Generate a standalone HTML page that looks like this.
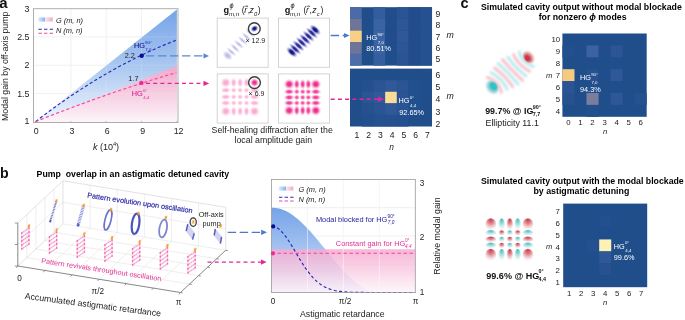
<!DOCTYPE html><html><head><meta charset="utf-8"><style>html,body{margin:0;padding:0;background:#fff;width:685px;height:320px;overflow:hidden}svg{display:block;will-change:transform}text{font-family:"Liberation Sans",sans-serif}</style></head><body><svg width="685" height="320" viewBox="0 0 685 320"><defs>
<linearGradient id="gBlueA" x1="0" y1="8.75" x2="0" y2="122" gradientUnits="userSpaceOnUse">
 <stop offset="0" stop-color="#75a3e8"/><stop offset="0.5" stop-color="#a9c7f0"/><stop offset="1" stop-color="#f0f5fd"/></linearGradient>
<linearGradient id="gPinkA" x1="0" y1="65" x2="0" y2="122" gradientUnits="userSpaceOnUse">
 <stop offset="0" stop-color="#f1a6cb"/><stop offset="0.5" stop-color="#f6cde1"/><stop offset="1" stop-color="#fdf5f9"/></linearGradient>
<linearGradient id="gSwB" x1="0" x2="1"><stop offset="0" stop-color="#e2ecfa"/><stop offset="1" stop-color="#86b1ec"/></linearGradient>
<linearGradient id="gSwP" x1="0" x2="1"><stop offset="0" stop-color="#fbe6f0"/><stop offset="1" stop-color="#f3a9cc"/></linearGradient>

<filter id="bl1" x="-50%" y="-50%" width="200%" height="200%"><feGaussianBlur stdDeviation="0.9"/></filter>
<filter id="bl2" x="-50%" y="-50%" width="200%" height="200%"><feGaussianBlur stdDeviation="1.3"/></filter>
<filter id="bl05" x="-50%" y="-50%" width="200%" height="200%"><feGaussianBlur stdDeviation="0.5"/></filter>
<filter id="bl06" x="-50%" y="-50%" width="200%" height="200%"><feGaussianBlur stdDeviation="0.6"/></filter><radialGradient id="rgNavy"><stop offset="0" stop-color="#0a0a86"/><stop offset="0.35" stop-color="#0a0a86" stop-opacity="0.9"/><stop offset="0.7" stop-color="#3a3ab0" stop-opacity="0.35"/><stop offset="1" stop-color="#8080d0" stop-opacity="0"/></radialGradient><radialGradient id="rgLav"><stop offset="0" stop-color="#5050c0" stop-opacity="0.45"/><stop offset="0.5" stop-color="#6a6ac8" stop-opacity="0.3"/><stop offset="1" stop-color="#a0a0e0" stop-opacity="0"/></radialGradient><radialGradient id="rgPink"><stop offset="0" stop-color="#f0208a"/><stop offset="0.35" stop-color="#f0288c" stop-opacity="0.9"/><stop offset="0.7" stop-color="#f060a8" stop-opacity="0.35"/><stop offset="1" stop-color="#f8a0c8" stop-opacity="0"/></radialGradient>
<radialGradient id="rgRed" cx="0.5" cy="0.5" r="0.5" fx="0.25" fy="0.5"><stop offset="0" stop-color="#e02430"/><stop offset="0.35" stop-color="#c83440" stop-opacity="0.95"/><stop offset="0.7" stop-color="#c86870" stop-opacity="0.5"/><stop offset="1" stop-color="#f0c0c4" stop-opacity="0"/></radialGradient>
<radialGradient id="rgCyan" cx="0.5" cy="0.5" r="0.5" fx="0.75" fy="0.5"><stop offset="0" stop-color="#10d8dc"/><stop offset="0.35" stop-color="#28b8bc" stop-opacity="0.95"/><stop offset="0.7" stop-color="#60b8bc" stop-opacity="0.5"/><stop offset="1" stop-color="#c0e8ea" stop-opacity="0"/></radialGradient>
<radialGradient id="lgRedB" cx="0.5" cy="0.3" r="0.75" fx="0.5" fy="0.12"><stop offset="0" stop-color="#c83a48"/><stop offset="0.4" stop-color="#d8707a" stop-opacity="0.8"/><stop offset="1" stop-color="#f4c8cc" stop-opacity="0"/></radialGradient>
<radialGradient id="lgCyanB" cx="0.5" cy="0.3" r="0.75" fx="0.5" fy="0.12"><stop offset="0" stop-color="#40bcc0"/><stop offset="0.4" stop-color="#86d4d6" stop-opacity="0.8"/><stop offset="1" stop-color="#ccecee" stop-opacity="0"/></radialGradient>

<linearGradient id="gBlueB" x1="0" y1="205" x2="0" y2="292" gradientUnits="userSpaceOnUse">
 <stop offset="0" stop-color="#73a1e7"/><stop offset="0.5" stop-color="#a4c3f0"/><stop offset="1" stop-color="#e8effb"/></linearGradient>
<linearGradient id="gPinkB" x1="0" y1="249.3" x2="0" y2="292.5" gradientUnits="userSpaceOnUse">
 <stop offset="0" stop-color="#f6a9d0" stop-opacity="0.85"/><stop offset="0.5" stop-color="#f8c8e0" stop-opacity="0.75"/><stop offset="1" stop-color="#fdf2f8" stop-opacity="0.7"/></linearGradient>
</defs><line x1="70.85" y1="8.75" x2="70.85" y2="122.4" stroke="#e4e4e4" stroke-width="0.6"/>
<line x1="106.20" y1="8.75" x2="106.20" y2="122.4" stroke="#e4e4e4" stroke-width="0.6"/>
<line x1="141.55" y1="8.75" x2="141.55" y2="122.4" stroke="#e4e4e4" stroke-width="0.6"/>
<line x1="33.5" y1="93.45" x2="178" y2="93.45" stroke="#e4e4e4" stroke-width="0.6"/>
<line x1="33.5" y1="65.20" x2="178" y2="65.20" stroke="#e4e4e4" stroke-width="0.6"/>
<line x1="33.5" y1="36.95" x2="178" y2="36.95" stroke="#e4e4e4" stroke-width="0.6"/>
<polygon points="35.5,121.7 176.9,9.5 176.9,122.2 35.5,122.2" fill="url(#gBlueA)"/>
<polygon points="35.5,121.7 176.9,65.8 176.9,122.2 35.5,122.2" fill="url(#gPinkA)"/>
<line x1="70.85" y1="8.75" x2="70.85" y2="122.4" stroke="#ffffff" stroke-opacity="0.25" stroke-width="0.6"/>
<line x1="106.20" y1="8.75" x2="106.20" y2="122.4" stroke="#ffffff" stroke-opacity="0.25" stroke-width="0.6"/>
<line x1="141.55" y1="8.75" x2="141.55" y2="122.4" stroke="#ffffff" stroke-opacity="0.25" stroke-width="0.6"/>
<line x1="33.5" y1="93.45" x2="178" y2="93.45" stroke="#ffffff" stroke-opacity="0.25" stroke-width="0.6"/>
<line x1="33.5" y1="65.20" x2="178" y2="65.20" stroke="#ffffff" stroke-opacity="0.25" stroke-width="0.6"/>
<line x1="33.5" y1="36.95" x2="178" y2="36.95" stroke="#ffffff" stroke-opacity="0.25" stroke-width="0.6"/>
<path d="M35.5,121.7 Q105.9,67.0 176.3,40.2" fill="none" stroke="#2a2ab8" stroke-width="1.15" stroke-dasharray="3.2,2.3"/>
<path d="M35.5,121.7 Q105.9,93.3 176.3,72.6" fill="none" stroke="#f0489e" stroke-width="1.15" stroke-dasharray="3.2,2.3"/>
<rect x="33.5" y="8.75" width="144.5" height="113.65" fill="none" stroke="#9a9a9a" stroke-width="0.8"/>
<line x1="35.50" y1="122.4" x2="35.50" y2="120.9" stroke="#9a9a9a" stroke-width="0.6"/>
<line x1="70.85" y1="122.4" x2="70.85" y2="120.9" stroke="#9a9a9a" stroke-width="0.6"/>
<line x1="106.20" y1="122.4" x2="106.20" y2="120.9" stroke="#9a9a9a" stroke-width="0.6"/>
<line x1="141.55" y1="122.4" x2="141.55" y2="120.9" stroke="#9a9a9a" stroke-width="0.6"/>
<line x1="176.90" y1="122.4" x2="176.90" y2="120.9" stroke="#9a9a9a" stroke-width="0.6"/>
<text x="36.30" y="133.80" font-size="8.8" fill="#222" text-anchor="middle" font-weight="normal" font-style="normal" >0</text>
<text x="72.00" y="133.80" font-size="8.8" fill="#222" text-anchor="middle" font-weight="normal" font-style="normal" >3</text>
<text x="107.20" y="133.80" font-size="8.8" fill="#222" text-anchor="middle" font-weight="normal" font-style="normal" >6</text>
<text x="142.80" y="133.80" font-size="8.8" fill="#222" text-anchor="middle" font-weight="normal" font-style="normal" >9</text>
<text x="178.60" y="133.80" font-size="8.8" fill="#222" text-anchor="middle" font-weight="normal" font-style="normal" >12</text>
<text x="29.40" y="11.70" font-size="8.8" fill="#222" text-anchor="end" font-weight="normal" font-style="normal" >3</text>
<text x="29.40" y="40.10" font-size="8.8" fill="#222" text-anchor="end" font-weight="normal" font-style="normal" >2.5</text>
<text x="29.40" y="68.30" font-size="8.8" fill="#222" text-anchor="end" font-weight="normal" font-style="normal" >2</text>
<text x="29.40" y="96.50" font-size="8.8" fill="#222" text-anchor="end" font-weight="normal" font-style="normal" >1.5</text>
<text x="29.40" y="123.90" font-size="8.8" fill="#222" text-anchor="end" font-weight="normal" font-style="normal" >1</text>
<text transform="translate(8.0,66.3) rotate(-90)" font-size="8.75" fill="#222" text-anchor="middle">Modal gain by off-axis pump</text>
<text x="106.0" y="149.7" font-size="9" fill="#222" text-anchor="middle"><tspan font-style="italic">k</tspan> (10<tspan font-size="5.6" dy="-3.6">4</tspan><tspan dy="3.6">)</tspan></text>
<rect x="38.2" y="17.4" width="7" height="4.2" fill="url(#gSwB)"/>
<rect x="45.2" y="17.4" width="7.6" height="4.2" fill="url(#gSwP)"/>
<line x1="38.4" y1="29.3" x2="53" y2="29.3" stroke="#2a2ab8" stroke-width="1.1" stroke-dasharray="3.4,2.2"/>
<line x1="38.4" y1="33.3" x2="53" y2="33.3" stroke="#f0489e" stroke-width="1.1" stroke-dasharray="3.4,2.2"/>
<text x="55.90" y="22.90" font-size="7.4" fill="#222" text-anchor="start" font-weight="normal" font-style="italic" >G (m, n)</text>
<text x="55.90" y="33.00" font-size="7.4" fill="#222" text-anchor="start" font-weight="normal" font-style="italic" >N (m, n)</text>
<circle cx="141.7" cy="55.8" r="2.2" fill="#0a0a96"/>
<circle cx="141.4" cy="82.9" r="2.2" fill="#ee2a92"/>
<text x="124.70" y="57.80" font-size="7.3" fill="#222" text-anchor="start" font-weight="normal" font-style="normal" >2.2</text>
<text x="128.30" y="80.50" font-size="7.3" fill="#222" text-anchor="start" font-weight="normal" font-style="normal" >1.7</text>
<text x="133.90" y="47.90" font-size="7.3" fill="#141490" font-weight="normal" stroke="#141490" stroke-width="0.12">HG</text>
<text x="145.05" y="43.74" font-size="4.38" fill="#141490" font-weight="normal">90°</text>
<text x="145.35" y="51.19" font-size="4.38" fill="#141490" font-weight="normal">7,0</text>
<text x="131.80" y="95.80" font-size="7.3" fill="#dc2096" font-weight="normal" stroke="#dc2096" stroke-width="0.1">HG</text>
<text x="142.95" y="91.64" font-size="4.38" fill="#dc2096" font-weight="normal">0°</text>
<text x="143.25" y="99.08" font-size="4.38" fill="#dc2096" font-weight="normal">4,4</text>
<line x1="146" y1="55.9" x2="204.5" y2="55.9" stroke="#5b86d2" stroke-width="1.4" stroke-dasharray="8.4,3.6"/>
<polygon points="203.5,53.3 209,55.9 203.5,58.5" fill="#5b86d2"/>
<line x1="146" y1="83.4" x2="204.5" y2="83.4" stroke="#e0279a" stroke-width="1.4" stroke-dasharray="4,3.2"/>
<polygon points="203.5,80.8 209.2,83.4 203.5,86" fill="#e0279a"/>
<text x="-0.70" y="7.90" font-size="15.0" fill="#111" text-anchor="start" font-weight="bold" font-style="normal" >a</text>
<rect x="217.2" y="18.1" width="51" height="49.2" fill="#fff" stroke="#cfcfcf" stroke-width="0.9"/>
<rect x="278.5" y="18.1" width="51" height="49.2" fill="#fff" stroke="#cfcfcf" stroke-width="0.9"/>
<rect x="217.2" y="73.9" width="51" height="49.2" fill="#fff" stroke="#cfcfcf" stroke-width="0.9"/>
<rect x="278.5" y="73.9" width="51" height="49.2" fill="#fff" stroke="#cfcfcf" stroke-width="0.9"/>
<text x="223.60000000000002" y="12.5" font-size="9.2" fill="#111" font-weight="bold">g</text>
<text x="229.4" y="8.2" font-size="7.4" fill="#222" font-style="italic">ϕ</text>
<text x="228.9" y="15.8" font-size="6.2" fill="#222" font-style="italic">m,n</text>
<text x="241.8" y="12.8" font-size="8.6" fill="#222">(</text>
<text x="244.20000000000002" y="12.8" font-size="8.6" fill="#222" font-style="italic">r</text>
<path d="M244.70,6.30 h3.0 M246.90,5.40 l0.9,0.9 l-0.9,0.9" fill="none" stroke="#222" stroke-width="0.6"/>
<text x="247.8" y="12.8" font-size="8.6" fill="#222">,</text>
<text x="249.60000000000002" y="12.8" font-size="8.6" fill="#222" font-style="italic">z</text>
<text x="254.0" y="16.0" font-size="5.8" fill="#222" font-style="italic">0</text>
<text x="257.8" y="12.8" font-size="8.6" fill="#222">)</text>
<text x="284.7" y="12.5" font-size="9.2" fill="#111" font-weight="bold">g</text>
<text x="290.5" y="8.2" font-size="7.4" fill="#222" font-style="italic">ϕ</text>
<text x="290.0" y="15.8" font-size="6.2" fill="#222" font-style="italic">m,n</text>
<text x="303.59999999999997" y="12.8" font-size="8.6" fill="#222">(</text>
<text x="305.99999999999994" y="12.8" font-size="8.6" fill="#222" font-style="italic">r</text>
<path d="M306.50,6.30 h3.0 M308.70,5.40 l0.9,0.9 l-0.9,0.9" fill="none" stroke="#222" stroke-width="0.6"/>
<text x="309.59999999999997" y="12.8" font-size="8.6" fill="#222">,</text>
<text x="312.29999999999995" y="12.8" font-size="8.6" fill="#222" font-style="italic">z</text>
<text x="316.69999999999993" y="16.0" font-size="5.8" fill="#222" font-style="italic">c</text>
<text x="320.49999999999994" y="12.8" font-size="8.6" fill="#222">)</text>
<g><ellipse cx="291.80" cy="52.20" rx="7.2" ry="3.6" transform="rotate(42 291.80 52.20)" fill="url(#rgNavy)" fill-opacity="1.0"/><ellipse cx="295.14" cy="49.00" rx="8.2" ry="2.7" transform="rotate(42 295.14 49.00)" fill="url(#rgNavy)" fill-opacity="0.9"/><ellipse cx="298.49" cy="45.80" rx="8.2" ry="2.7" transform="rotate(42 298.49 45.80)" fill="url(#rgNavy)" fill-opacity="0.9"/><ellipse cx="301.83" cy="42.60" rx="8.2" ry="2.7" transform="rotate(42 301.83 42.60)" fill="url(#rgNavy)" fill-opacity="0.9"/><ellipse cx="305.17" cy="39.40" rx="8.2" ry="2.7" transform="rotate(42 305.17 39.40)" fill="url(#rgNavy)" fill-opacity="0.9"/><ellipse cx="308.51" cy="36.20" rx="8.2" ry="2.7" transform="rotate(42 308.51 36.20)" fill="url(#rgNavy)" fill-opacity="0.9"/><ellipse cx="311.86" cy="33.00" rx="8.2" ry="2.7" transform="rotate(42 311.86 33.00)" fill="url(#rgNavy)" fill-opacity="0.9"/><ellipse cx="315.20" cy="29.80" rx="7.2" ry="3.6" transform="rotate(42 315.20 29.80)" fill="url(#rgNavy)" fill-opacity="1.0"/></g>
<g><ellipse cx="227.60" cy="55.60" rx="6.0" ry="4.0" transform="rotate(42 227.60 55.60)" fill="url(#rgLav)" fill-opacity="1.0"/><ellipse cx="231.37" cy="51.83" rx="6.8" ry="2.0" transform="rotate(42 231.37 51.83)" fill="url(#rgLav)" fill-opacity="0.95"/><ellipse cx="235.13" cy="48.07" rx="6.8" ry="2.0" transform="rotate(42 235.13 48.07)" fill="url(#rgLav)" fill-opacity="0.95"/><ellipse cx="238.90" cy="44.30" rx="6.8" ry="2.0" transform="rotate(42 238.90 44.30)" fill="url(#rgLav)" fill-opacity="0.95"/><ellipse cx="242.67" cy="40.53" rx="6.8" ry="2.0" transform="rotate(42 242.67 40.53)" fill="url(#rgLav)" fill-opacity="0.95"/><ellipse cx="246.43" cy="36.77" rx="6.8" ry="2.0" transform="rotate(42 246.43 36.77)" fill="url(#rgLav)" fill-opacity="0.95"/><ellipse cx="250.20" cy="33.00" rx="6.8" ry="2.0" transform="rotate(42 250.20 33.00)" fill="url(#rgLav)" fill-opacity="0.95"/></g>
<ellipse cx="254.5" cy="28.6" rx="4.4" ry="3.4" transform="rotate(-30 254.5 28.6)" fill="url(#rgNavy)"/>
<circle cx="254.3" cy="28.7" r="5.9" fill="none" stroke="#3c3c3c" stroke-width="1.4"/>
<text x="245.50" y="42.70" font-size="7.0" fill="#222" text-anchor="start" font-weight="normal" font-style="normal" >× 12.9</text>
<g><ellipse cx="225.80" cy="82.60" rx="5.8" ry="5.6" fill="url(#rgPink)" fill-opacity="0.40"/><ellipse cx="233.70" cy="82.60" rx="3.3" ry="5.6" fill="url(#rgPink)" fill-opacity="0.36"/><ellipse cx="240.10" cy="82.60" rx="3.3" ry="5.6" fill="url(#rgPink)" fill-opacity="0.36"/><ellipse cx="246.50" cy="82.60" rx="3.3" ry="5.6" fill="url(#rgPink)" fill-opacity="0.36"/><ellipse cx="225.80" cy="90.20" rx="5.8" ry="3.2" fill="url(#rgPink)" fill-opacity="0.36"/><ellipse cx="233.70" cy="90.20" rx="3.3" ry="3.1" fill="url(#rgPink)" fill-opacity="0.32"/><ellipse cx="240.10" cy="90.20" rx="3.3" ry="3.1" fill="url(#rgPink)" fill-opacity="0.32"/><ellipse cx="246.50" cy="90.20" rx="3.3" ry="3.1" fill="url(#rgPink)" fill-opacity="0.32"/><ellipse cx="254.50" cy="90.20" rx="5.8" ry="3.2" fill="url(#rgPink)" fill-opacity="0.36"/><ellipse cx="225.80" cy="96.90" rx="5.8" ry="3.2" fill="url(#rgPink)" fill-opacity="0.36"/><ellipse cx="233.70" cy="96.90" rx="3.3" ry="3.1" fill="url(#rgPink)" fill-opacity="0.32"/><ellipse cx="240.10" cy="96.90" rx="3.3" ry="3.1" fill="url(#rgPink)" fill-opacity="0.32"/><ellipse cx="246.50" cy="96.90" rx="3.3" ry="3.1" fill="url(#rgPink)" fill-opacity="0.32"/><ellipse cx="254.50" cy="96.90" rx="5.8" ry="3.2" fill="url(#rgPink)" fill-opacity="0.36"/><ellipse cx="225.80" cy="103.00" rx="5.8" ry="3.2" fill="url(#rgPink)" fill-opacity="0.36"/><ellipse cx="233.70" cy="103.00" rx="3.3" ry="3.1" fill="url(#rgPink)" fill-opacity="0.32"/><ellipse cx="240.10" cy="103.00" rx="3.3" ry="3.1" fill="url(#rgPink)" fill-opacity="0.32"/><ellipse cx="246.50" cy="103.00" rx="3.3" ry="3.1" fill="url(#rgPink)" fill-opacity="0.32"/><ellipse cx="254.50" cy="103.00" rx="5.8" ry="3.2" fill="url(#rgPink)" fill-opacity="0.36"/><ellipse cx="225.80" cy="111.30" rx="5.8" ry="5.6" fill="url(#rgPink)" fill-opacity="0.40"/><ellipse cx="233.70" cy="111.30" rx="3.3" ry="5.6" fill="url(#rgPink)" fill-opacity="0.36"/><ellipse cx="240.10" cy="111.30" rx="3.3" ry="5.6" fill="url(#rgPink)" fill-opacity="0.36"/><ellipse cx="246.50" cy="111.30" rx="3.3" ry="5.6" fill="url(#rgPink)" fill-opacity="0.36"/><ellipse cx="254.50" cy="111.30" rx="5.8" ry="5.6" fill="url(#rgPink)" fill-opacity="0.40"/></g>
<circle cx="254.5" cy="82.6" r="4.8" fill="url(#rgPink)"/>
<circle cx="254.5" cy="82.6" r="5.9" fill="none" stroke="#3c3c3c" stroke-width="1.4"/>
<text x="248.60" y="96.30" font-size="7.0" fill="#222" text-anchor="start" font-weight="normal" font-style="normal" >× 6.9</text>
<g><ellipse cx="289.20" cy="84.20" rx="5.8" ry="5.6" fill="url(#rgPink)" fill-opacity="1.00"/><ellipse cx="296.80" cy="84.20" rx="3.3" ry="5.6" fill="url(#rgPink)" fill-opacity="0.90"/><ellipse cx="302.70" cy="84.20" rx="3.3" ry="5.6" fill="url(#rgPink)" fill-opacity="0.90"/><ellipse cx="308.30" cy="84.20" rx="3.3" ry="5.6" fill="url(#rgPink)" fill-opacity="0.90"/><ellipse cx="315.80" cy="84.20" rx="5.8" ry="5.6" fill="url(#rgPink)" fill-opacity="1.00"/><ellipse cx="289.20" cy="91.70" rx="5.8" ry="3.2" fill="url(#rgPink)" fill-opacity="0.90"/><ellipse cx="296.80" cy="91.70" rx="3.3" ry="3.1" fill="url(#rgPink)" fill-opacity="0.80"/><ellipse cx="302.70" cy="91.70" rx="3.3" ry="3.1" fill="url(#rgPink)" fill-opacity="0.80"/><ellipse cx="308.30" cy="91.70" rx="3.3" ry="3.1" fill="url(#rgPink)" fill-opacity="0.80"/><ellipse cx="315.80" cy="91.70" rx="5.8" ry="3.2" fill="url(#rgPink)" fill-opacity="0.90"/><ellipse cx="289.20" cy="97.40" rx="5.8" ry="3.2" fill="url(#rgPink)" fill-opacity="0.90"/><ellipse cx="296.80" cy="97.40" rx="3.3" ry="3.1" fill="url(#rgPink)" fill-opacity="0.80"/><ellipse cx="302.70" cy="97.40" rx="3.3" ry="3.1" fill="url(#rgPink)" fill-opacity="0.80"/><ellipse cx="308.30" cy="97.40" rx="3.3" ry="3.1" fill="url(#rgPink)" fill-opacity="0.80"/><ellipse cx="315.80" cy="97.40" rx="5.8" ry="3.2" fill="url(#rgPink)" fill-opacity="0.90"/><ellipse cx="289.20" cy="103.00" rx="5.8" ry="3.2" fill="url(#rgPink)" fill-opacity="0.90"/><ellipse cx="296.80" cy="103.00" rx="3.3" ry="3.1" fill="url(#rgPink)" fill-opacity="0.80"/><ellipse cx="302.70" cy="103.00" rx="3.3" ry="3.1" fill="url(#rgPink)" fill-opacity="0.80"/><ellipse cx="308.30" cy="103.00" rx="3.3" ry="3.1" fill="url(#rgPink)" fill-opacity="0.80"/><ellipse cx="315.80" cy="103.00" rx="5.8" ry="3.2" fill="url(#rgPink)" fill-opacity="0.90"/><ellipse cx="289.20" cy="110.50" rx="5.8" ry="5.6" fill="url(#rgPink)" fill-opacity="1.00"/><ellipse cx="296.80" cy="110.50" rx="3.3" ry="5.6" fill="url(#rgPink)" fill-opacity="0.90"/><ellipse cx="302.70" cy="110.50" rx="3.3" ry="5.6" fill="url(#rgPink)" fill-opacity="0.90"/><ellipse cx="308.30" cy="110.50" rx="3.3" ry="5.6" fill="url(#rgPink)" fill-opacity="0.90"/><ellipse cx="315.80" cy="110.50" rx="5.8" ry="5.6" fill="url(#rgPink)" fill-opacity="1.00"/></g>
<text x="272.20" y="132.80" font-size="8.78" fill="#222" text-anchor="middle" font-weight="normal" font-style="normal" >Self-healing diffraction after the</text>
<text x="273.30" y="143.10" font-size="8.78" fill="#222" text-anchor="middle" font-weight="normal" font-style="normal" >local amplitude gain</text>
<line x1="330.7" y1="35.5" x2="345" y2="35.5" stroke="#4a78cc" stroke-width="1.3" stroke-dasharray="8.4,3.6"/>
<polygon points="344,32.9 349.6,35.5 344,38.1" fill="#4a78cc"/>
<rect x="350" y="7.2" width="82" height="58.4" fill="#1f4e8b"/>
<rect x="350.00" y="7.20" width="11.76" height="11.73" fill="#4a6aa8"/>
<rect x="373.43" y="7.20" width="11.76" height="11.73" fill="#335d9d"/>
<rect x="396.86" y="7.20" width="11.76" height="11.73" fill="#2a5494"/>
<rect x="408.57" y="7.20" width="11.76" height="11.73" fill="#214d8d"/>
<rect x="420.29" y="7.20" width="11.76" height="11.73" fill="#26518f"/>
<rect x="350.00" y="18.88" width="11.76" height="11.73" fill="#6e7599"/>
<rect x="373.43" y="18.88" width="11.76" height="11.73" fill="#3a63a3"/>
<rect x="396.86" y="18.88" width="11.76" height="11.73" fill="#2c5696"/>
<rect x="408.57" y="18.88" width="11.76" height="11.73" fill="#214d8d"/>
<rect x="420.29" y="18.88" width="11.76" height="11.73" fill="#26518f"/>
<rect x="350.00" y="30.56" width="11.76" height="11.73" fill="#f7cf85"/>
<rect x="373.43" y="30.56" width="11.76" height="11.73" fill="#3b64a4"/>
<rect x="385.14" y="30.56" width="11.76" height="11.73" fill="#214d8d"/>
<rect x="396.86" y="30.56" width="11.76" height="11.73" fill="#2e5898"/>
<rect x="408.57" y="30.56" width="11.76" height="11.73" fill="#214d8d"/>
<rect x="420.29" y="30.56" width="11.76" height="11.73" fill="#26518f"/>
<rect x="350.00" y="42.24" width="11.76" height="11.73" fill="#6e7599"/>
<rect x="373.43" y="42.24" width="11.76" height="11.73" fill="#3a63a3"/>
<rect x="396.86" y="42.24" width="11.76" height="11.73" fill="#2c5696"/>
<rect x="408.57" y="42.24" width="11.76" height="11.73" fill="#214d8d"/>
<rect x="420.29" y="42.24" width="11.76" height="11.73" fill="#26518f"/>
<rect x="350.00" y="53.92" width="11.76" height="11.73" fill="#4e6ca8"/>
<rect x="373.43" y="53.92" width="11.76" height="11.73" fill="#345e9e"/>
<rect x="396.86" y="53.92" width="11.76" height="11.73" fill="#2a5494"/>
<rect x="408.57" y="53.92" width="11.76" height="11.73" fill="#214d8d"/>
<rect x="420.29" y="53.92" width="11.76" height="11.73" fill="#26518f"/>
<rect x="350" y="68.6" width="82" height="57.9" fill="#1f4e8b"/>
<rect x="361.71" y="80.18" width="11.76" height="11.63" fill="#24508f"/>
<rect x="373.43" y="80.18" width="11.76" height="11.63" fill="#2a5494"/>
<rect x="385.14" y="80.18" width="11.76" height="11.63" fill="#30599a"/>
<rect x="396.86" y="80.18" width="11.76" height="11.63" fill="#2a5494"/>
<rect x="408.57" y="80.18" width="11.76" height="11.63" fill="#22508f"/>
<rect x="361.71" y="91.76" width="11.76" height="11.63" fill="#2a5494"/>
<rect x="373.43" y="91.76" width="11.76" height="11.63" fill="#30599a"/>
<rect x="385.14" y="91.76" width="11.76" height="11.63" fill="#fadb98"/>
<rect x="396.86" y="91.76" width="11.76" height="11.63" fill="#2a5494"/>
<rect x="408.57" y="91.76" width="11.76" height="11.63" fill="#22508f"/>
<rect x="361.71" y="103.34" width="11.76" height="11.63" fill="#26518f"/>
<rect x="373.43" y="103.34" width="11.76" height="11.63" fill="#2a5494"/>
<rect x="385.14" y="103.34" width="11.76" height="11.63" fill="#30599a"/>
<rect x="396.86" y="103.34" width="11.76" height="11.63" fill="#2a5494"/>
<rect x="408.57" y="103.34" width="11.76" height="11.63" fill="#22508f"/>
<rect x="361.71" y="114.92" width="11.76" height="11.63" fill="#22508f"/>
<rect x="373.43" y="114.92" width="11.76" height="11.63" fill="#25518f"/>
<rect x="385.14" y="114.92" width="11.76" height="11.63" fill="#26518f"/>
<rect x="396.86" y="114.92" width="11.76" height="11.63" fill="#24508f"/>
<text x="435.50" y="16.90" font-size="8.6" fill="#222" text-anchor="start" font-weight="normal" font-style="normal" >9</text>
<text x="435.50" y="28.25" font-size="8.6" fill="#222" text-anchor="start" font-weight="normal" font-style="normal" >8</text>
<text x="435.50" y="39.60" font-size="8.6" fill="#222" text-anchor="start" font-weight="normal" font-style="normal" >7</text>
<text x="435.50" y="50.95" font-size="8.6" fill="#222" text-anchor="start" font-weight="normal" font-style="normal" >6</text>
<text x="435.50" y="62.30" font-size="8.6" fill="#222" text-anchor="start" font-weight="normal" font-style="normal" >5</text>
<text x="435.50" y="77.70" font-size="8.6" fill="#222" text-anchor="start" font-weight="normal" font-style="normal" >6</text>
<text x="435.50" y="89.98" font-size="8.6" fill="#222" text-anchor="start" font-weight="normal" font-style="normal" >5</text>
<text x="435.50" y="102.26" font-size="8.6" fill="#222" text-anchor="start" font-weight="normal" font-style="normal" >4</text>
<text x="435.50" y="114.54" font-size="8.6" fill="#222" text-anchor="start" font-weight="normal" font-style="normal" >3</text>
<text x="435.50" y="126.82" font-size="8.6" fill="#222" text-anchor="start" font-weight="normal" font-style="normal" >2</text>
<text x="446.60" y="38.00" font-size="8.8" fill="#222" text-anchor="start" font-weight="normal" font-style="italic" >m</text>
<text x="446.60" y="99.30" font-size="8.8" fill="#222" text-anchor="start" font-weight="normal" font-style="italic" >m</text>
<text x="356.80" y="137.90" font-size="8.6" fill="#222" text-anchor="middle" font-weight="normal" font-style="normal" >1</text>
<text x="368.55" y="137.90" font-size="8.6" fill="#222" text-anchor="middle" font-weight="normal" font-style="normal" >2</text>
<text x="380.30" y="137.90" font-size="8.6" fill="#222" text-anchor="middle" font-weight="normal" font-style="normal" >3</text>
<text x="392.05" y="137.90" font-size="8.6" fill="#222" text-anchor="middle" font-weight="normal" font-style="normal" >4</text>
<text x="403.80" y="137.90" font-size="8.6" fill="#222" text-anchor="middle" font-weight="normal" font-style="normal" >5</text>
<text x="415.55" y="137.90" font-size="8.6" fill="#222" text-anchor="middle" font-weight="normal" font-style="normal" >6</text>
<text x="427.30" y="137.90" font-size="8.6" fill="#222" text-anchor="middle" font-weight="normal" font-style="normal" >7</text>
<text x="391.60" y="149.80" font-size="8.4" fill="#222" text-anchor="middle" font-weight="normal" font-style="italic" >n</text>
<text x="366.30" y="40.30" font-size="7.3" fill="#ffffff" font-weight="normal" stroke="#ffffff" stroke-width="0">HG</text>
<text x="377.45" y="36.14" font-size="4.38" fill="#ffffff" font-weight="normal">90°</text>
<text x="377.75" y="43.58" font-size="4.38" fill="#ffffff" font-weight="normal">7,0</text>
<text x="366.30" y="50.90" font-size="7.3" fill="#ffffff" text-anchor="start" font-weight="normal" font-style="normal" >80.51%</text>
<text x="398.60" y="103.30" font-size="7.3" fill="#ffffff" font-weight="normal" stroke="#ffffff" stroke-width="0">HG</text>
<text x="409.75" y="99.14" font-size="4.38" fill="#ffffff" font-weight="normal">0°</text>
<text x="410.05" y="106.58" font-size="4.38" fill="#ffffff" font-weight="normal">4,4</text>
<text x="399.30" y="114.90" font-size="7.3" fill="#ffffff" text-anchor="start" font-weight="normal" font-style="normal" >92.65%</text>
<line x1="330.7" y1="99.3" x2="379" y2="99.3" stroke="#e0279a" stroke-width="1.4" stroke-dasharray="4,3.2"/>
<polygon points="378.2,96.6 384,99.3 378.2,102" fill="#e0279a"/>
<text x="460.50" y="8.30" font-size="14.5" fill="#111" text-anchor="start" font-weight="bold" font-style="normal" >c</text>
<text x="481.00" y="9.70" font-size="8.76" fill="#000" text-anchor="start" font-weight="bold" font-style="normal" >Simulated cavity output without modal blockade</text>
<text x="582.6" y="19.5" font-size="8.76" fill="#000" font-weight="bold" text-anchor="middle">for nonzero <tspan font-style="italic">ϕ</tspan> modes</text>
<rect x="562.4" y="33.5" width="84.3" height="83.3" fill="#1f4e8b"/>
<rect x="562.40" y="45.40" width="12.09" height="11.95" fill="#234f8e"/>
<rect x="586.49" y="45.40" width="12.09" height="11.95" fill="#3b62a2"/>
<rect x="610.57" y="45.40" width="12.09" height="11.95" fill="#2b5595"/>
<rect x="562.40" y="69.20" width="12.09" height="11.95" fill="#f6cb80"/>
<rect x="586.49" y="69.20" width="12.09" height="11.95" fill="#26528f"/>
<rect x="610.57" y="69.20" width="12.09" height="11.95" fill="#2f5898"/>
<rect x="562.40" y="81.10" width="12.09" height="11.95" fill="#2a5494"/>
<rect x="562.40" y="93.00" width="12.09" height="11.95" fill="#27528f"/>
<rect x="586.49" y="93.00" width="12.09" height="11.95" fill="#7a7e9c"/>
<rect x="610.57" y="93.00" width="12.09" height="11.95" fill="#2e5797"/>
<rect x="634.66" y="93.00" width="12.09" height="11.95" fill="#26518f"/>
<rect x="586.49" y="104.90" width="12.09" height="11.95" fill="#22508f"/>
<text x="560.20" y="42.20" font-size="7.8" fill="#222" text-anchor="end" font-weight="normal" font-style="normal" >10</text>
<text x="560.20" y="54.10" font-size="7.8" fill="#222" text-anchor="end" font-weight="normal" font-style="normal" >9</text>
<text x="560.20" y="66.00" font-size="7.8" fill="#222" text-anchor="end" font-weight="normal" font-style="normal" >8</text>
<text x="560.20" y="77.90" font-size="7.8" fill="#222" text-anchor="end" font-weight="normal" font-style="normal" >7</text>
<text x="560.20" y="89.80" font-size="7.8" fill="#222" text-anchor="end" font-weight="normal" font-style="normal" >6</text>
<text x="560.20" y="101.70" font-size="7.8" fill="#222" text-anchor="end" font-weight="normal" font-style="normal" >5</text>
<text x="560.20" y="113.60" font-size="7.8" fill="#222" text-anchor="end" font-weight="normal" font-style="normal" >4</text>
<text x="546.00" y="77.60" font-size="7.6" fill="#222" text-anchor="start" font-weight="normal" font-style="italic" >m</text>
<text x="568.40" y="125.30" font-size="7.8" fill="#222" text-anchor="middle" font-weight="normal" font-style="normal" >0</text>
<text x="580.45" y="125.30" font-size="7.8" fill="#222" text-anchor="middle" font-weight="normal" font-style="normal" >1</text>
<text x="592.50" y="125.30" font-size="7.8" fill="#222" text-anchor="middle" font-weight="normal" font-style="normal" >2</text>
<text x="604.55" y="125.30" font-size="7.8" fill="#222" text-anchor="middle" font-weight="normal" font-style="normal" >3</text>
<text x="616.60" y="125.30" font-size="7.8" fill="#222" text-anchor="middle" font-weight="normal" font-style="normal" >4</text>
<text x="628.65" y="125.30" font-size="7.8" fill="#222" text-anchor="middle" font-weight="normal" font-style="normal" >5</text>
<text x="640.70" y="125.30" font-size="7.8" fill="#222" text-anchor="middle" font-weight="normal" font-style="normal" >6</text>
<text x="605.00" y="134.30" font-size="7.6" fill="#222" text-anchor="middle" font-weight="normal" font-style="italic" >n</text>
<text x="580.00" y="80.30" font-size="7.3" fill="#ffffff" font-weight="normal" stroke="#ffffff" stroke-width="0">HG</text>
<text x="591.15" y="76.14" font-size="4.38" fill="#ffffff" font-weight="normal">90°</text>
<text x="591.45" y="83.58" font-size="4.38" fill="#ffffff" font-weight="normal">7,0</text>
<text x="580.00" y="92.00" font-size="7.3" fill="#ffffff" text-anchor="start" font-weight="normal" font-style="normal" >94.3%</text>
<text x="485.2" y="114" font-size="8.9" fill="#111" font-weight="bold">99.7% @ IG</text>
<text x="532.8" y="108.8" font-size="5.4" fill="#111" font-weight="bold">90°</text>
<text x="532.8" y="116.0" font-size="5.4" fill="#111" font-weight="bold">7,7</text>
<text x="485.50" y="126.40" font-size="8.85" fill="#222" text-anchor="start" font-weight="normal" font-style="normal" >Ellipticity 11.1</text>
<g filter="url(#bl1)"><path d="M487.35,77.59 L488.47,77.98 L489.56,78.39 L490.61,78.83 L491.63,79.31 L492.60,79.82 L493.52,80.36 L494.40,80.95 L495.23,81.57 L496.01,82.24 L496.73,82.94 L497.41,83.69 L498.03,84.48 L498.61,85.31 L499.13,86.18 L499.61,87.08 L500.05,88.03 L500.44,89.00 L500.79,90.01 L501.10,91.05 L501.38,92.12" fill="none" stroke="#f3a0ae" stroke-width="3.2" stroke-linecap="round" stroke-opacity="0.62"/><path d="M491.21,72.68 L492.26,73.30 L493.30,73.94 L494.31,74.60 L495.29,75.27 L496.25,75.97 L497.19,76.69 L498.09,77.43 L498.97,78.20 L499.81,78.99 L500.62,79.80 L501.41,80.64 L502.16,81.51 L502.88,82.39 L503.58,83.31 L504.24,84.24 L504.88,85.20 L505.49,86.18 L506.08,87.18 L506.64,88.19 L507.19,89.23" fill="none" stroke="#92e0e4" stroke-width="3.2" stroke-linecap="round" stroke-opacity="0.62"/><path d="M494.68,68.08 L495.74,68.89 L496.78,69.70 L497.80,70.52 L498.81,71.36 L499.80,72.21 L500.78,73.07 L501.74,73.94 L502.69,74.84 L503.61,75.74 L504.51,76.66 L505.40,77.60 L506.27,78.55 L507.12,79.51 L507.95,80.49 L508.77,81.49 L509.56,82.49 L510.35,83.51 L511.11,84.55 L511.87,85.59 L512.61,86.64" fill="none" stroke="#f3a0ae" stroke-width="3.2" stroke-linecap="round" stroke-opacity="0.62"/><path d="M498.15,63.49 L499.20,64.48 L500.25,65.46 L501.29,66.45 L502.32,67.45 L503.35,68.45 L504.38,69.45 L505.39,70.46 L506.40,71.47 L507.41,72.49 L508.40,73.52 L509.39,74.55 L510.38,75.59 L511.35,76.63 L512.32,77.68 L513.29,78.73 L514.24,79.79 L515.19,80.85 L516.14,81.92 L517.08,82.99 L518.02,84.07" fill="none" stroke="#92e0e4" stroke-width="3.2" stroke-linecap="round" stroke-opacity="0.62"/><path d="M502.68,59.83 L503.62,60.91 L504.56,61.98 L505.51,63.05 L506.46,64.11 L507.41,65.17 L508.38,66.22 L509.35,67.27 L510.32,68.31 L511.31,69.35 L512.30,70.38 L513.29,71.41 L514.30,72.43 L515.31,73.44 L516.32,74.45 L517.35,75.45 L518.38,76.45 L519.41,77.45 L520.45,78.44 L521.50,79.42 L522.55,80.41" fill="none" stroke="#f3a0ae" stroke-width="3.2" stroke-linecap="round" stroke-opacity="0.62"/><path d="M508.09,57.26 L508.83,58.31 L509.59,59.35 L510.35,60.39 L511.14,61.41 L511.93,62.41 L512.75,63.41 L513.58,64.39 L514.43,65.35 L515.30,66.30 L516.19,67.24 L517.09,68.16 L518.01,69.06 L518.96,69.96 L519.92,70.83 L520.90,71.69 L521.89,72.54 L522.90,73.38 L523.92,74.20 L524.96,75.01 L526.02,75.82" fill="none" stroke="#92e0e4" stroke-width="3.2" stroke-linecap="round" stroke-opacity="0.62"/><path d="M513.51,54.67 L514.06,55.71 L514.62,56.72 L515.21,57.72 L515.82,58.70 L516.46,59.66 L517.12,60.59 L517.82,61.51 L518.54,62.39 L519.29,63.26 L520.08,64.10 L520.89,64.91 L521.73,65.70 L522.61,66.47 L523.51,67.21 L524.45,67.93 L525.41,68.63 L526.39,69.30 L527.40,69.96 L528.44,70.60 L529.49,71.22" fill="none" stroke="#f3a0ae" stroke-width="3.2" stroke-linecap="round" stroke-opacity="0.62"/><path d="M519.32,51.78 L519.60,52.85 L519.91,53.89 L520.26,54.90 L520.65,55.87 L521.09,56.82 L521.57,57.72 L522.09,58.59 L522.67,59.42 L523.29,60.21 L523.97,60.96 L524.69,61.66 L525.47,62.33 L526.30,62.95 L527.18,63.54 L528.10,64.08 L529.07,64.59 L530.09,65.07 L531.14,65.51 L532.23,65.92 L533.35,66.31" fill="none" stroke="#92e0e4" stroke-width="3.2" stroke-linecap="round" stroke-opacity="0.62"/></g>
<ellipse cx="528.87" cy="57.00" rx="6.0" ry="8.0" transform="rotate(-38.9 528.87 57.00)" fill="url(#rgRed)" filter="url(#bl05)"/>
<ellipse cx="491.87" cy="87.51" rx="6.8" ry="8.8" transform="rotate(-38.9 491.87 87.51)" fill="url(#rgCyan)" filter="url(#bl05)"/>
<g filter="url(#bl06)"><ellipse cx="490.8" cy="224.2" rx="5.4" ry="6.0" fill="url(#lgRedB)"/><ellipse cx="501.7" cy="224.2" rx="3.2" ry="6.0" fill="url(#lgCyanB)"/><ellipse cx="509.8" cy="224.2" rx="3.2" ry="6.0" fill="url(#lgRedB)"/><ellipse cx="517.7" cy="224.2" rx="3.2" ry="6.0" fill="url(#lgCyanB)"/><ellipse cx="527.9" cy="224.2" rx="5.4" ry="6.0" fill="url(#lgRedB)"/><ellipse cx="490.8" cy="233.0" rx="5.4" ry="3.0" fill="url(#lgCyanB)"/><ellipse cx="501.7" cy="233.0" rx="2.9" ry="2.8" fill="url(#lgRedB)"/><ellipse cx="509.8" cy="233.0" rx="2.9" ry="2.8" fill="url(#lgCyanB)"/><ellipse cx="517.7" cy="233.0" rx="2.9" ry="2.8" fill="url(#lgRedB)"/><ellipse cx="527.9" cy="233.0" rx="5.4" ry="3.0" fill="url(#lgCyanB)"/><ellipse cx="490.8" cy="239.5" rx="5.4" ry="3.0" fill="url(#lgRedB)"/><ellipse cx="501.7" cy="239.5" rx="2.9" ry="2.8" fill="url(#lgCyanB)"/><ellipse cx="509.8" cy="239.5" rx="2.9" ry="2.8" fill="url(#lgRedB)"/><ellipse cx="517.7" cy="239.5" rx="2.9" ry="2.8" fill="url(#lgCyanB)"/><ellipse cx="527.9" cy="239.5" rx="5.4" ry="3.0" fill="url(#lgRedB)"/><ellipse cx="490.8" cy="245.6" rx="5.4" ry="3.0" fill="url(#lgCyanB)"/><ellipse cx="501.7" cy="245.6" rx="2.9" ry="2.8" fill="url(#lgRedB)"/><ellipse cx="509.8" cy="245.6" rx="2.9" ry="2.8" fill="url(#lgCyanB)"/><ellipse cx="517.7" cy="245.6" rx="2.9" ry="2.8" fill="url(#lgRedB)"/><ellipse cx="527.9" cy="245.6" rx="5.4" ry="3.0" fill="url(#lgCyanB)"/><ellipse cx="490.8" cy="254.8" rx="5.4" ry="6.0" fill="url(#lgRedB)"/><ellipse cx="501.7" cy="254.8" rx="3.2" ry="6.0" fill="url(#lgCyanB)"/><ellipse cx="509.8" cy="254.8" rx="3.2" ry="6.0" fill="url(#lgRedB)"/><ellipse cx="517.7" cy="254.8" rx="3.2" ry="6.0" fill="url(#lgCyanB)"/><ellipse cx="527.9" cy="254.8" rx="5.4" ry="6.0" fill="url(#lgRedB)"/></g>
<text x="486.3" y="278.7" font-size="9.05" fill="#111" font-weight="bold">99.6% @ HG</text>
<text x="538.6" y="272.7" font-size="5.4" fill="#111" font-weight="bold">0°</text>
<text x="538.4" y="280.5" font-size="5.4" fill="#111" font-weight="bold">4,4</text>
<text x="481.00" y="184.10" font-size="8.76" fill="#000" text-anchor="start" font-weight="bold" font-style="normal" >Simulated cavity output with the modal blockade</text>
<text x="581.40" y="193.60" font-size="8.8" fill="#000" text-anchor="middle" font-weight="bold" font-style="normal" >by astigmatic detuning</text>
<rect x="563.2" y="203.6" width="84.0" height="83.6" fill="#1f4e8b"/>
<rect x="599.20" y="215.54" width="12.05" height="11.99" fill="#22508f"/>
<rect x="599.20" y="227.49" width="12.05" height="11.99" fill="#204d8c"/>
<rect x="587.20" y="239.43" width="12.05" height="11.99" fill="#24508f"/>
<rect x="599.20" y="239.43" width="12.05" height="11.99" fill="#fff0b4"/>
<rect x="599.20" y="251.37" width="12.05" height="11.99" fill="#2f5898"/>
<rect x="599.20" y="263.31" width="12.05" height="11.99" fill="#27528f"/>
<text x="559.80" y="213.80" font-size="7.8" fill="#222" text-anchor="end" font-weight="normal" font-style="normal" >7</text>
<text x="559.80" y="225.72" font-size="7.8" fill="#222" text-anchor="end" font-weight="normal" font-style="normal" >6</text>
<text x="559.80" y="237.64" font-size="7.8" fill="#222" text-anchor="end" font-weight="normal" font-style="normal" >5</text>
<text x="559.80" y="249.56" font-size="7.8" fill="#222" text-anchor="end" font-weight="normal" font-style="normal" >4</text>
<text x="559.80" y="261.48" font-size="7.8" fill="#222" text-anchor="end" font-weight="normal" font-style="normal" >3</text>
<text x="559.80" y="273.40" font-size="7.8" fill="#222" text-anchor="end" font-weight="normal" font-style="normal" >2</text>
<text x="559.80" y="285.32" font-size="7.8" fill="#222" text-anchor="end" font-weight="normal" font-style="normal" >1</text>
<text x="546.00" y="248.60" font-size="7.6" fill="#222" text-anchor="start" font-weight="normal" font-style="italic" >m</text>
<text x="569.20" y="295.60" font-size="7.8" fill="#222" text-anchor="middle" font-weight="normal" font-style="normal" >1</text>
<text x="581.20" y="295.60" font-size="7.8" fill="#222" text-anchor="middle" font-weight="normal" font-style="normal" >2</text>
<text x="593.20" y="295.60" font-size="7.8" fill="#222" text-anchor="middle" font-weight="normal" font-style="normal" >3</text>
<text x="605.20" y="295.60" font-size="7.8" fill="#222" text-anchor="middle" font-weight="normal" font-style="normal" >4</text>
<text x="617.20" y="295.60" font-size="7.8" fill="#222" text-anchor="middle" font-weight="normal" font-style="normal" >5</text>
<text x="629.20" y="295.60" font-size="7.8" fill="#222" text-anchor="middle" font-weight="normal" font-style="normal" >6</text>
<text x="641.20" y="295.60" font-size="7.8" fill="#222" text-anchor="middle" font-weight="normal" font-style="normal" >7</text>
<text x="605.20" y="304.50" font-size="7.6" fill="#222" text-anchor="middle" font-weight="normal" font-style="italic" >n</text>
<text x="613.80" y="248.60" font-size="7.3" fill="#ffffff" font-weight="normal" stroke="#ffffff" stroke-width="0">HG</text>
<text x="624.95" y="244.44" font-size="4.38" fill="#ffffff" font-weight="normal">0°</text>
<text x="625.25" y="251.88" font-size="4.38" fill="#ffffff" font-weight="normal">4,4</text>
<text x="613.80" y="260.30" font-size="7.3" fill="#ffffff" text-anchor="start" font-weight="normal" font-style="normal" >99.6%</text>
<text x="-0.10" y="177.80" font-size="14.2" fill="#111" text-anchor="start" font-weight="bold" font-style="normal" >b</text>
<text x="36.6" y="176.9" font-size="8.76" fill="#000" font-weight="bold" xml:space="preserve">Pump  overlap in an astigmatic detuned cavity</text>
<line x1="44.92" y1="270.42" x2="90.12" y2="228.22" stroke="#e3e3e3" stroke-width="0.6"/>
<line x1="72.03" y1="274.83" x2="117.23" y2="232.63" stroke="#e3e3e3" stroke-width="0.6"/>
<line x1="99.15" y1="279.25" x2="144.35" y2="237.05" stroke="#e3e3e3" stroke-width="0.6"/>
<line x1="126.27" y1="283.67" x2="171.47" y2="241.47" stroke="#e3e3e3" stroke-width="0.6"/>
<line x1="153.38" y1="288.08" x2="198.58" y2="245.88" stroke="#e3e3e3" stroke-width="0.6"/>
<line x1="26.84" y1="257.56" x2="189.54" y2="284.06" stroke="#e3e3e3" stroke-width="0.6"/>
<line x1="35.88" y1="249.12" x2="198.58" y2="275.62" stroke="#e3e3e3" stroke-width="0.6"/>
<line x1="44.92" y1="240.68" x2="207.62" y2="267.18" stroke="#e3e3e3" stroke-width="0.6"/>
<line x1="53.96" y1="232.24" x2="216.66" y2="258.74" stroke="#e3e3e3" stroke-width="0.6"/>
<line x1="90.12" y1="228.22" x2="90.12" y2="185.22" stroke="#e3e3e3" stroke-width="0.6"/>
<line x1="117.23" y1="232.63" x2="117.23" y2="189.63" stroke="#e3e3e3" stroke-width="0.6"/>
<line x1="144.35" y1="237.05" x2="144.35" y2="194.05" stroke="#e3e3e3" stroke-width="0.6"/>
<line x1="171.47" y1="241.47" x2="171.47" y2="198.47" stroke="#e3e3e3" stroke-width="0.6"/>
<line x1="198.58" y1="245.88" x2="198.58" y2="202.88" stroke="#e3e3e3" stroke-width="0.6"/>
<line x1="63.00" y1="202.30" x2="225.70" y2="228.80" stroke="#e3e3e3" stroke-width="0.6"/>
<line x1="63.00" y1="223.80" x2="225.70" y2="250.30" stroke="#e3e3e3" stroke-width="0.6"/>
<line x1="26.84" y1="257.56" x2="26.84" y2="214.56" stroke="#e3e3e3" stroke-width="0.6"/>
<line x1="35.88" y1="249.12" x2="35.88" y2="206.12" stroke="#e3e3e3" stroke-width="0.6"/>
<line x1="44.92" y1="240.68" x2="44.92" y2="197.68" stroke="#e3e3e3" stroke-width="0.6"/>
<line x1="53.96" y1="232.24" x2="53.96" y2="189.24" stroke="#e3e3e3" stroke-width="0.6"/>
<line x1="17.80" y1="244.50" x2="63.00" y2="202.30" stroke="#e3e3e3" stroke-width="0.6"/>
<line x1="63.00" y1="180.80" x2="225.70" y2="207.30" stroke="#d6d6d6" stroke-width="0.7"/>
<line x1="225.70" y1="250.30" x2="225.70" y2="207.30" stroke="#d6d6d6" stroke-width="0.7"/>
<line x1="17.80" y1="223.00" x2="63.00" y2="180.80" stroke="#d6d6d6" stroke-width="0.7"/>
<line x1="63.00" y1="223.80" x2="63.00" y2="180.80" stroke="#d6d6d6" stroke-width="0.7"/>
<line x1="17.80" y1="266.00" x2="63.00" y2="223.80" stroke="#d6d6d6" stroke-width="0.7"/>
<line x1="17.80" y1="266.00" x2="180.50" y2="292.50" stroke="#6a6a6a" stroke-width="0.8"/>
<line x1="180.50" y1="292.50" x2="225.70" y2="250.30" stroke="#6a6a6a" stroke-width="0.8"/>
<line x1="17.80" y1="266.00" x2="17.80" y2="223.00" stroke="#6a6a6a" stroke-width="0.8"/>
<line x1="17.80" y1="266.00" x2="16.20" y2="267.80" stroke="#6a6a6a" stroke-width="0.7"/>
<line x1="44.92" y1="270.42" x2="43.32" y2="272.22" stroke="#6a6a6a" stroke-width="0.7"/>
<line x1="72.03" y1="274.83" x2="70.43" y2="276.63" stroke="#6a6a6a" stroke-width="0.7"/>
<line x1="99.15" y1="279.25" x2="97.55" y2="281.05" stroke="#6a6a6a" stroke-width="0.7"/>
<line x1="126.27" y1="283.67" x2="124.67" y2="285.47" stroke="#6a6a6a" stroke-width="0.7"/>
<line x1="153.38" y1="288.08" x2="151.78" y2="289.88" stroke="#6a6a6a" stroke-width="0.7"/>
<line x1="180.50" y1="292.50" x2="178.90" y2="294.30" stroke="#6a6a6a" stroke-width="0.7"/>
<line x1="180.50" y1="292.50" x2="182.70" y2="292.90" stroke="#6a6a6a" stroke-width="0.7"/>
<line x1="189.54" y1="284.06" x2="191.74" y2="284.46" stroke="#6a6a6a" stroke-width="0.7"/>
<line x1="198.58" y1="275.62" x2="200.78" y2="276.02" stroke="#6a6a6a" stroke-width="0.7"/>
<line x1="207.62" y1="267.18" x2="209.82" y2="267.58" stroke="#6a6a6a" stroke-width="0.7"/>
<line x1="216.66" y1="258.74" x2="218.86" y2="259.14" stroke="#6a6a6a" stroke-width="0.7"/>
<line x1="225.70" y1="250.30" x2="227.90" y2="250.70" stroke="#6a6a6a" stroke-width="0.7"/>
<line x1="17.80" y1="266.00" x2="14.80" y2="266.00" stroke="#6a6a6a" stroke-width="0.7"/>
<line x1="17.80" y1="244.50" x2="14.80" y2="244.50" stroke="#6a6a6a" stroke-width="0.7"/>
<line x1="17.80" y1="223.00" x2="14.80" y2="223.00" stroke="#6a6a6a" stroke-width="0.7"/>
<text x="19.50" y="281.20" font-size="8.2" fill="#222" text-anchor="middle" font-weight="normal" font-style="normal" >0</text>
<text x="97.80" y="293.80" font-size="8.2" fill="#222" text-anchor="middle" font-weight="normal" font-style="normal" >π/2</text>
<text x="178.70" y="304.80" font-size="8.2" fill="#222" text-anchor="middle" font-weight="normal" font-style="normal" >π</text>
<text transform="translate(24.4,298.8) rotate(7.4)" font-size="8.8" fill="#222">Accumulated astigmatic retardance</text>
<g filter="url(#bl05)"><line x1="29.00" y1="227.70" x2="29.00" y2="244.10" stroke="#f7a8d2" stroke-width="1.4" stroke-opacity="0.55"/><line x1="21.80" y1="232.70" x2="21.80" y2="249.10" stroke="#f7a8d2" stroke-width="1.4" stroke-opacity="0.55"/><line x1="21.80" y1="233.10" x2="29.00" y2="228.10" stroke="#f7a0cf" stroke-width="1.3" stroke-opacity="0.5"/><ellipse cx="21.80" cy="233.10" rx="0.80" ry="1.00" fill="#f0409c" fill-opacity="0.75"/><ellipse cx="23.60" cy="231.85" rx="0.60" ry="0.75" fill="#f0409c" fill-opacity="0.4"/><ellipse cx="25.40" cy="230.60" rx="0.60" ry="0.75" fill="#f0409c" fill-opacity="0.4"/><ellipse cx="27.20" cy="229.35" rx="0.60" ry="0.75" fill="#f0409c" fill-opacity="0.4"/><ellipse cx="29.00" cy="228.10" rx="0.80" ry="1.00" fill="#f0409c" fill-opacity="0.75"/><line x1="21.80" y1="237.10" x2="29.00" y2="232.10" stroke="#f7a0cf" stroke-width="1.3" stroke-opacity="0.5"/><ellipse cx="21.80" cy="237.10" rx="0.80" ry="1.00" fill="#f0409c" fill-opacity="0.75"/><ellipse cx="23.60" cy="235.85" rx="0.60" ry="0.75" fill="#f0409c" fill-opacity="0.4"/><ellipse cx="25.40" cy="234.60" rx="0.60" ry="0.75" fill="#f0409c" fill-opacity="0.4"/><ellipse cx="27.20" cy="233.35" rx="0.60" ry="0.75" fill="#f0409c" fill-opacity="0.4"/><ellipse cx="29.00" cy="232.10" rx="0.80" ry="1.00" fill="#f0409c" fill-opacity="0.75"/><line x1="21.80" y1="241.10" x2="29.00" y2="236.10" stroke="#f7a0cf" stroke-width="1.3" stroke-opacity="0.5"/><ellipse cx="21.80" cy="241.10" rx="0.80" ry="1.00" fill="#f0409c" fill-opacity="0.75"/><ellipse cx="23.60" cy="239.85" rx="0.60" ry="0.75" fill="#f0409c" fill-opacity="0.4"/><ellipse cx="25.40" cy="238.60" rx="0.60" ry="0.75" fill="#f0409c" fill-opacity="0.4"/><ellipse cx="27.20" cy="237.35" rx="0.60" ry="0.75" fill="#f0409c" fill-opacity="0.4"/><ellipse cx="29.00" cy="236.10" rx="0.80" ry="1.00" fill="#f0409c" fill-opacity="0.75"/><line x1="21.80" y1="245.10" x2="29.00" y2="240.10" stroke="#f7a0cf" stroke-width="1.3" stroke-opacity="0.5"/><ellipse cx="21.80" cy="245.10" rx="0.80" ry="1.00" fill="#f0409c" fill-opacity="0.75"/><ellipse cx="23.60" cy="243.85" rx="0.60" ry="0.75" fill="#f0409c" fill-opacity="0.4"/><ellipse cx="25.40" cy="242.60" rx="0.60" ry="0.75" fill="#f0409c" fill-opacity="0.4"/><ellipse cx="27.20" cy="241.35" rx="0.60" ry="0.75" fill="#f0409c" fill-opacity="0.4"/><ellipse cx="29.00" cy="240.10" rx="0.80" ry="1.00" fill="#f0409c" fill-opacity="0.75"/><line x1="21.80" y1="249.10" x2="29.00" y2="244.10" stroke="#f7a0cf" stroke-width="1.3" stroke-opacity="0.5"/><ellipse cx="21.80" cy="249.10" rx="0.80" ry="1.00" fill="#f0409c" fill-opacity="0.75"/><ellipse cx="23.60" cy="247.85" rx="0.60" ry="0.75" fill="#f0409c" fill-opacity="0.4"/><ellipse cx="25.40" cy="246.60" rx="0.60" ry="0.75" fill="#f0409c" fill-opacity="0.4"/><ellipse cx="27.20" cy="245.35" rx="0.60" ry="0.75" fill="#f0409c" fill-opacity="0.4"/><ellipse cx="29.00" cy="244.10" rx="0.80" ry="1.00" fill="#f0409c" fill-opacity="0.75"/></g>
<ellipse cx="28.90" cy="225.90" rx="1.1" ry="1.9" transform="rotate(20 28.90 225.90)" fill="#f59a2a" filter="url(#bl05)"/>
<g filter="url(#bl05)"><line x1="56.70" y1="231.65" x2="56.70" y2="248.05" stroke="#f7a8d2" stroke-width="1.4" stroke-opacity="0.55"/><line x1="49.50" y1="236.65" x2="49.50" y2="253.05" stroke="#f7a8d2" stroke-width="1.4" stroke-opacity="0.55"/><line x1="49.50" y1="237.05" x2="56.70" y2="232.05" stroke="#f7a0cf" stroke-width="1.3" stroke-opacity="0.5"/><ellipse cx="49.50" cy="237.05" rx="0.80" ry="1.00" fill="#f0409c" fill-opacity="0.75"/><ellipse cx="51.30" cy="235.80" rx="0.60" ry="0.75" fill="#f0409c" fill-opacity="0.4"/><ellipse cx="53.10" cy="234.55" rx="0.60" ry="0.75" fill="#f0409c" fill-opacity="0.4"/><ellipse cx="54.90" cy="233.30" rx="0.60" ry="0.75" fill="#f0409c" fill-opacity="0.4"/><ellipse cx="56.70" cy="232.05" rx="0.80" ry="1.00" fill="#f0409c" fill-opacity="0.75"/><line x1="49.50" y1="241.05" x2="56.70" y2="236.05" stroke="#f7a0cf" stroke-width="1.3" stroke-opacity="0.5"/><ellipse cx="49.50" cy="241.05" rx="0.80" ry="1.00" fill="#f0409c" fill-opacity="0.75"/><ellipse cx="51.30" cy="239.80" rx="0.60" ry="0.75" fill="#f0409c" fill-opacity="0.4"/><ellipse cx="53.10" cy="238.55" rx="0.60" ry="0.75" fill="#f0409c" fill-opacity="0.4"/><ellipse cx="54.90" cy="237.30" rx="0.60" ry="0.75" fill="#f0409c" fill-opacity="0.4"/><ellipse cx="56.70" cy="236.05" rx="0.80" ry="1.00" fill="#f0409c" fill-opacity="0.75"/><line x1="49.50" y1="245.05" x2="56.70" y2="240.05" stroke="#f7a0cf" stroke-width="1.3" stroke-opacity="0.5"/><ellipse cx="49.50" cy="245.05" rx="0.80" ry="1.00" fill="#f0409c" fill-opacity="0.75"/><ellipse cx="51.30" cy="243.80" rx="0.60" ry="0.75" fill="#f0409c" fill-opacity="0.4"/><ellipse cx="53.10" cy="242.55" rx="0.60" ry="0.75" fill="#f0409c" fill-opacity="0.4"/><ellipse cx="54.90" cy="241.30" rx="0.60" ry="0.75" fill="#f0409c" fill-opacity="0.4"/><ellipse cx="56.70" cy="240.05" rx="0.80" ry="1.00" fill="#f0409c" fill-opacity="0.75"/><line x1="49.50" y1="249.05" x2="56.70" y2="244.05" stroke="#f7a0cf" stroke-width="1.3" stroke-opacity="0.5"/><ellipse cx="49.50" cy="249.05" rx="0.80" ry="1.00" fill="#f0409c" fill-opacity="0.75"/><ellipse cx="51.30" cy="247.80" rx="0.60" ry="0.75" fill="#f0409c" fill-opacity="0.4"/><ellipse cx="53.10" cy="246.55" rx="0.60" ry="0.75" fill="#f0409c" fill-opacity="0.4"/><ellipse cx="54.90" cy="245.30" rx="0.60" ry="0.75" fill="#f0409c" fill-opacity="0.4"/><ellipse cx="56.70" cy="244.05" rx="0.80" ry="1.00" fill="#f0409c" fill-opacity="0.75"/><line x1="49.50" y1="253.05" x2="56.70" y2="248.05" stroke="#f7a0cf" stroke-width="1.3" stroke-opacity="0.5"/><ellipse cx="49.50" cy="253.05" rx="0.80" ry="1.00" fill="#f0409c" fill-opacity="0.75"/><ellipse cx="51.30" cy="251.80" rx="0.60" ry="0.75" fill="#f0409c" fill-opacity="0.4"/><ellipse cx="53.10" cy="250.55" rx="0.60" ry="0.75" fill="#f0409c" fill-opacity="0.4"/><ellipse cx="54.90" cy="249.30" rx="0.60" ry="0.75" fill="#f0409c" fill-opacity="0.4"/><ellipse cx="56.70" cy="248.05" rx="0.80" ry="1.00" fill="#f0409c" fill-opacity="0.75"/></g>
<ellipse cx="56.60" cy="229.85" rx="1.1" ry="1.9" transform="rotate(20 56.60 229.85)" fill="#f59a2a" filter="url(#bl05)"/>
<g filter="url(#bl05)"><line x1="84.40" y1="235.60" x2="84.40" y2="252.00" stroke="#f7a8d2" stroke-width="1.4" stroke-opacity="0.55"/><line x1="77.20" y1="240.60" x2="77.20" y2="257.00" stroke="#f7a8d2" stroke-width="1.4" stroke-opacity="0.55"/><line x1="77.20" y1="241.00" x2="84.40" y2="236.00" stroke="#f7a0cf" stroke-width="1.3" stroke-opacity="0.5"/><ellipse cx="77.20" cy="241.00" rx="0.80" ry="1.00" fill="#f0409c" fill-opacity="0.75"/><ellipse cx="79.00" cy="239.75" rx="0.60" ry="0.75" fill="#f0409c" fill-opacity="0.4"/><ellipse cx="80.80" cy="238.50" rx="0.60" ry="0.75" fill="#f0409c" fill-opacity="0.4"/><ellipse cx="82.60" cy="237.25" rx="0.60" ry="0.75" fill="#f0409c" fill-opacity="0.4"/><ellipse cx="84.40" cy="236.00" rx="0.80" ry="1.00" fill="#f0409c" fill-opacity="0.75"/><line x1="77.20" y1="245.00" x2="84.40" y2="240.00" stroke="#f7a0cf" stroke-width="1.3" stroke-opacity="0.5"/><ellipse cx="77.20" cy="245.00" rx="0.80" ry="1.00" fill="#f0409c" fill-opacity="0.75"/><ellipse cx="79.00" cy="243.75" rx="0.60" ry="0.75" fill="#f0409c" fill-opacity="0.4"/><ellipse cx="80.80" cy="242.50" rx="0.60" ry="0.75" fill="#f0409c" fill-opacity="0.4"/><ellipse cx="82.60" cy="241.25" rx="0.60" ry="0.75" fill="#f0409c" fill-opacity="0.4"/><ellipse cx="84.40" cy="240.00" rx="0.80" ry="1.00" fill="#f0409c" fill-opacity="0.75"/><line x1="77.20" y1="249.00" x2="84.40" y2="244.00" stroke="#f7a0cf" stroke-width="1.3" stroke-opacity="0.5"/><ellipse cx="77.20" cy="249.00" rx="0.80" ry="1.00" fill="#f0409c" fill-opacity="0.75"/><ellipse cx="79.00" cy="247.75" rx="0.60" ry="0.75" fill="#f0409c" fill-opacity="0.4"/><ellipse cx="80.80" cy="246.50" rx="0.60" ry="0.75" fill="#f0409c" fill-opacity="0.4"/><ellipse cx="82.60" cy="245.25" rx="0.60" ry="0.75" fill="#f0409c" fill-opacity="0.4"/><ellipse cx="84.40" cy="244.00" rx="0.80" ry="1.00" fill="#f0409c" fill-opacity="0.75"/><line x1="77.20" y1="253.00" x2="84.40" y2="248.00" stroke="#f7a0cf" stroke-width="1.3" stroke-opacity="0.5"/><ellipse cx="77.20" cy="253.00" rx="0.80" ry="1.00" fill="#f0409c" fill-opacity="0.75"/><ellipse cx="79.00" cy="251.75" rx="0.60" ry="0.75" fill="#f0409c" fill-opacity="0.4"/><ellipse cx="80.80" cy="250.50" rx="0.60" ry="0.75" fill="#f0409c" fill-opacity="0.4"/><ellipse cx="82.60" cy="249.25" rx="0.60" ry="0.75" fill="#f0409c" fill-opacity="0.4"/><ellipse cx="84.40" cy="248.00" rx="0.80" ry="1.00" fill="#f0409c" fill-opacity="0.75"/><line x1="77.20" y1="257.00" x2="84.40" y2="252.00" stroke="#f7a0cf" stroke-width="1.3" stroke-opacity="0.5"/><ellipse cx="77.20" cy="257.00" rx="0.80" ry="1.00" fill="#f0409c" fill-opacity="0.75"/><ellipse cx="79.00" cy="255.75" rx="0.60" ry="0.75" fill="#f0409c" fill-opacity="0.4"/><ellipse cx="80.80" cy="254.50" rx="0.60" ry="0.75" fill="#f0409c" fill-opacity="0.4"/><ellipse cx="82.60" cy="253.25" rx="0.60" ry="0.75" fill="#f0409c" fill-opacity="0.4"/><ellipse cx="84.40" cy="252.00" rx="0.80" ry="1.00" fill="#f0409c" fill-opacity="0.75"/></g>
<ellipse cx="84.30" cy="233.80" rx="1.1" ry="1.9" transform="rotate(20 84.30 233.80)" fill="#f59a2a" filter="url(#bl05)"/>
<g filter="url(#bl05)"><line x1="112.10" y1="239.55" x2="112.10" y2="255.95" stroke="#f7a8d2" stroke-width="1.4" stroke-opacity="0.55"/><line x1="104.90" y1="244.55" x2="104.90" y2="260.95" stroke="#f7a8d2" stroke-width="1.4" stroke-opacity="0.55"/><line x1="104.90" y1="244.95" x2="112.10" y2="239.95" stroke="#f7a0cf" stroke-width="1.3" stroke-opacity="0.5"/><ellipse cx="104.90" cy="244.95" rx="0.80" ry="1.00" fill="#f0409c" fill-opacity="0.75"/><ellipse cx="106.70" cy="243.70" rx="0.60" ry="0.75" fill="#f0409c" fill-opacity="0.4"/><ellipse cx="108.50" cy="242.45" rx="0.60" ry="0.75" fill="#f0409c" fill-opacity="0.4"/><ellipse cx="110.30" cy="241.20" rx="0.60" ry="0.75" fill="#f0409c" fill-opacity="0.4"/><ellipse cx="112.10" cy="239.95" rx="0.80" ry="1.00" fill="#f0409c" fill-opacity="0.75"/><line x1="104.90" y1="248.95" x2="112.10" y2="243.95" stroke="#f7a0cf" stroke-width="1.3" stroke-opacity="0.5"/><ellipse cx="104.90" cy="248.95" rx="0.80" ry="1.00" fill="#f0409c" fill-opacity="0.75"/><ellipse cx="106.70" cy="247.70" rx="0.60" ry="0.75" fill="#f0409c" fill-opacity="0.4"/><ellipse cx="108.50" cy="246.45" rx="0.60" ry="0.75" fill="#f0409c" fill-opacity="0.4"/><ellipse cx="110.30" cy="245.20" rx="0.60" ry="0.75" fill="#f0409c" fill-opacity="0.4"/><ellipse cx="112.10" cy="243.95" rx="0.80" ry="1.00" fill="#f0409c" fill-opacity="0.75"/><line x1="104.90" y1="252.95" x2="112.10" y2="247.95" stroke="#f7a0cf" stroke-width="1.3" stroke-opacity="0.5"/><ellipse cx="104.90" cy="252.95" rx="0.80" ry="1.00" fill="#f0409c" fill-opacity="0.75"/><ellipse cx="106.70" cy="251.70" rx="0.60" ry="0.75" fill="#f0409c" fill-opacity="0.4"/><ellipse cx="108.50" cy="250.45" rx="0.60" ry="0.75" fill="#f0409c" fill-opacity="0.4"/><ellipse cx="110.30" cy="249.20" rx="0.60" ry="0.75" fill="#f0409c" fill-opacity="0.4"/><ellipse cx="112.10" cy="247.95" rx="0.80" ry="1.00" fill="#f0409c" fill-opacity="0.75"/><line x1="104.90" y1="256.95" x2="112.10" y2="251.95" stroke="#f7a0cf" stroke-width="1.3" stroke-opacity="0.5"/><ellipse cx="104.90" cy="256.95" rx="0.80" ry="1.00" fill="#f0409c" fill-opacity="0.75"/><ellipse cx="106.70" cy="255.70" rx="0.60" ry="0.75" fill="#f0409c" fill-opacity="0.4"/><ellipse cx="108.50" cy="254.45" rx="0.60" ry="0.75" fill="#f0409c" fill-opacity="0.4"/><ellipse cx="110.30" cy="253.20" rx="0.60" ry="0.75" fill="#f0409c" fill-opacity="0.4"/><ellipse cx="112.10" cy="251.95" rx="0.80" ry="1.00" fill="#f0409c" fill-opacity="0.75"/><line x1="104.90" y1="260.95" x2="112.10" y2="255.95" stroke="#f7a0cf" stroke-width="1.3" stroke-opacity="0.5"/><ellipse cx="104.90" cy="260.95" rx="0.80" ry="1.00" fill="#f0409c" fill-opacity="0.75"/><ellipse cx="106.70" cy="259.70" rx="0.60" ry="0.75" fill="#f0409c" fill-opacity="0.4"/><ellipse cx="108.50" cy="258.45" rx="0.60" ry="0.75" fill="#f0409c" fill-opacity="0.4"/><ellipse cx="110.30" cy="257.20" rx="0.60" ry="0.75" fill="#f0409c" fill-opacity="0.4"/><ellipse cx="112.10" cy="255.95" rx="0.80" ry="1.00" fill="#f0409c" fill-opacity="0.75"/></g>
<ellipse cx="112.00" cy="237.75" rx="1.1" ry="1.9" transform="rotate(20 112.00 237.75)" fill="#f59a2a" filter="url(#bl05)"/>
<g filter="url(#bl05)"><line x1="139.80" y1="243.50" x2="139.80" y2="259.90" stroke="#f7a8d2" stroke-width="1.4" stroke-opacity="0.55"/><line x1="132.60" y1="248.50" x2="132.60" y2="264.90" stroke="#f7a8d2" stroke-width="1.4" stroke-opacity="0.55"/><line x1="132.60" y1="248.90" x2="139.80" y2="243.90" stroke="#f7a0cf" stroke-width="1.3" stroke-opacity="0.5"/><ellipse cx="132.60" cy="248.90" rx="0.80" ry="1.00" fill="#f0409c" fill-opacity="0.75"/><ellipse cx="134.40" cy="247.65" rx="0.60" ry="0.75" fill="#f0409c" fill-opacity="0.4"/><ellipse cx="136.20" cy="246.40" rx="0.60" ry="0.75" fill="#f0409c" fill-opacity="0.4"/><ellipse cx="138.00" cy="245.15" rx="0.60" ry="0.75" fill="#f0409c" fill-opacity="0.4"/><ellipse cx="139.80" cy="243.90" rx="0.80" ry="1.00" fill="#f0409c" fill-opacity="0.75"/><line x1="132.60" y1="252.90" x2="139.80" y2="247.90" stroke="#f7a0cf" stroke-width="1.3" stroke-opacity="0.5"/><ellipse cx="132.60" cy="252.90" rx="0.80" ry="1.00" fill="#f0409c" fill-opacity="0.75"/><ellipse cx="134.40" cy="251.65" rx="0.60" ry="0.75" fill="#f0409c" fill-opacity="0.4"/><ellipse cx="136.20" cy="250.40" rx="0.60" ry="0.75" fill="#f0409c" fill-opacity="0.4"/><ellipse cx="138.00" cy="249.15" rx="0.60" ry="0.75" fill="#f0409c" fill-opacity="0.4"/><ellipse cx="139.80" cy="247.90" rx="0.80" ry="1.00" fill="#f0409c" fill-opacity="0.75"/><line x1="132.60" y1="256.90" x2="139.80" y2="251.90" stroke="#f7a0cf" stroke-width="1.3" stroke-opacity="0.5"/><ellipse cx="132.60" cy="256.90" rx="0.80" ry="1.00" fill="#f0409c" fill-opacity="0.75"/><ellipse cx="134.40" cy="255.65" rx="0.60" ry="0.75" fill="#f0409c" fill-opacity="0.4"/><ellipse cx="136.20" cy="254.40" rx="0.60" ry="0.75" fill="#f0409c" fill-opacity="0.4"/><ellipse cx="138.00" cy="253.15" rx="0.60" ry="0.75" fill="#f0409c" fill-opacity="0.4"/><ellipse cx="139.80" cy="251.90" rx="0.80" ry="1.00" fill="#f0409c" fill-opacity="0.75"/><line x1="132.60" y1="260.90" x2="139.80" y2="255.90" stroke="#f7a0cf" stroke-width="1.3" stroke-opacity="0.5"/><ellipse cx="132.60" cy="260.90" rx="0.80" ry="1.00" fill="#f0409c" fill-opacity="0.75"/><ellipse cx="134.40" cy="259.65" rx="0.60" ry="0.75" fill="#f0409c" fill-opacity="0.4"/><ellipse cx="136.20" cy="258.40" rx="0.60" ry="0.75" fill="#f0409c" fill-opacity="0.4"/><ellipse cx="138.00" cy="257.15" rx="0.60" ry="0.75" fill="#f0409c" fill-opacity="0.4"/><ellipse cx="139.80" cy="255.90" rx="0.80" ry="1.00" fill="#f0409c" fill-opacity="0.75"/><line x1="132.60" y1="264.90" x2="139.80" y2="259.90" stroke="#f7a0cf" stroke-width="1.3" stroke-opacity="0.5"/><ellipse cx="132.60" cy="264.90" rx="0.80" ry="1.00" fill="#f0409c" fill-opacity="0.75"/><ellipse cx="134.40" cy="263.65" rx="0.60" ry="0.75" fill="#f0409c" fill-opacity="0.4"/><ellipse cx="136.20" cy="262.40" rx="0.60" ry="0.75" fill="#f0409c" fill-opacity="0.4"/><ellipse cx="138.00" cy="261.15" rx="0.60" ry="0.75" fill="#f0409c" fill-opacity="0.4"/><ellipse cx="139.80" cy="259.90" rx="0.80" ry="1.00" fill="#f0409c" fill-opacity="0.75"/></g>
<ellipse cx="139.70" cy="241.70" rx="1.1" ry="1.9" transform="rotate(20 139.70 241.70)" fill="#f59a2a" filter="url(#bl05)"/>
<g filter="url(#bl05)"><line x1="167.50" y1="247.45" x2="167.50" y2="263.85" stroke="#f7a8d2" stroke-width="1.4" stroke-opacity="0.55"/><line x1="160.30" y1="252.45" x2="160.30" y2="268.85" stroke="#f7a8d2" stroke-width="1.4" stroke-opacity="0.55"/><line x1="160.30" y1="252.85" x2="167.50" y2="247.85" stroke="#f7a0cf" stroke-width="1.3" stroke-opacity="0.5"/><ellipse cx="160.30" cy="252.85" rx="0.80" ry="1.00" fill="#f0409c" fill-opacity="0.75"/><ellipse cx="162.10" cy="251.60" rx="0.60" ry="0.75" fill="#f0409c" fill-opacity="0.4"/><ellipse cx="163.90" cy="250.35" rx="0.60" ry="0.75" fill="#f0409c" fill-opacity="0.4"/><ellipse cx="165.70" cy="249.10" rx="0.60" ry="0.75" fill="#f0409c" fill-opacity="0.4"/><ellipse cx="167.50" cy="247.85" rx="0.80" ry="1.00" fill="#f0409c" fill-opacity="0.75"/><line x1="160.30" y1="256.85" x2="167.50" y2="251.85" stroke="#f7a0cf" stroke-width="1.3" stroke-opacity="0.5"/><ellipse cx="160.30" cy="256.85" rx="0.80" ry="1.00" fill="#f0409c" fill-opacity="0.75"/><ellipse cx="162.10" cy="255.60" rx="0.60" ry="0.75" fill="#f0409c" fill-opacity="0.4"/><ellipse cx="163.90" cy="254.35" rx="0.60" ry="0.75" fill="#f0409c" fill-opacity="0.4"/><ellipse cx="165.70" cy="253.10" rx="0.60" ry="0.75" fill="#f0409c" fill-opacity="0.4"/><ellipse cx="167.50" cy="251.85" rx="0.80" ry="1.00" fill="#f0409c" fill-opacity="0.75"/><line x1="160.30" y1="260.85" x2="167.50" y2="255.85" stroke="#f7a0cf" stroke-width="1.3" stroke-opacity="0.5"/><ellipse cx="160.30" cy="260.85" rx="0.80" ry="1.00" fill="#f0409c" fill-opacity="0.75"/><ellipse cx="162.10" cy="259.60" rx="0.60" ry="0.75" fill="#f0409c" fill-opacity="0.4"/><ellipse cx="163.90" cy="258.35" rx="0.60" ry="0.75" fill="#f0409c" fill-opacity="0.4"/><ellipse cx="165.70" cy="257.10" rx="0.60" ry="0.75" fill="#f0409c" fill-opacity="0.4"/><ellipse cx="167.50" cy="255.85" rx="0.80" ry="1.00" fill="#f0409c" fill-opacity="0.75"/><line x1="160.30" y1="264.85" x2="167.50" y2="259.85" stroke="#f7a0cf" stroke-width="1.3" stroke-opacity="0.5"/><ellipse cx="160.30" cy="264.85" rx="0.80" ry="1.00" fill="#f0409c" fill-opacity="0.75"/><ellipse cx="162.10" cy="263.60" rx="0.60" ry="0.75" fill="#f0409c" fill-opacity="0.4"/><ellipse cx="163.90" cy="262.35" rx="0.60" ry="0.75" fill="#f0409c" fill-opacity="0.4"/><ellipse cx="165.70" cy="261.10" rx="0.60" ry="0.75" fill="#f0409c" fill-opacity="0.4"/><ellipse cx="167.50" cy="259.85" rx="0.80" ry="1.00" fill="#f0409c" fill-opacity="0.75"/><line x1="160.30" y1="268.85" x2="167.50" y2="263.85" stroke="#f7a0cf" stroke-width="1.3" stroke-opacity="0.5"/><ellipse cx="160.30" cy="268.85" rx="0.80" ry="1.00" fill="#f0409c" fill-opacity="0.75"/><ellipse cx="162.10" cy="267.60" rx="0.60" ry="0.75" fill="#f0409c" fill-opacity="0.4"/><ellipse cx="163.90" cy="266.35" rx="0.60" ry="0.75" fill="#f0409c" fill-opacity="0.4"/><ellipse cx="165.70" cy="265.10" rx="0.60" ry="0.75" fill="#f0409c" fill-opacity="0.4"/><ellipse cx="167.50" cy="263.85" rx="0.80" ry="1.00" fill="#f0409c" fill-opacity="0.75"/></g>
<ellipse cx="167.40" cy="245.65" rx="1.1" ry="1.9" transform="rotate(20 167.40 245.65)" fill="#f59a2a" filter="url(#bl05)"/>
<g filter="url(#bl05)"><line x1="195.20" y1="251.40" x2="195.20" y2="267.80" stroke="#f7a8d2" stroke-width="1.4" stroke-opacity="0.55"/><line x1="188.00" y1="256.40" x2="188.00" y2="272.80" stroke="#f7a8d2" stroke-width="1.4" stroke-opacity="0.55"/><line x1="188.00" y1="256.80" x2="195.20" y2="251.80" stroke="#f7a0cf" stroke-width="1.3" stroke-opacity="0.5"/><ellipse cx="188.00" cy="256.80" rx="0.80" ry="1.00" fill="#f0409c" fill-opacity="0.75"/><ellipse cx="189.80" cy="255.55" rx="0.60" ry="0.75" fill="#f0409c" fill-opacity="0.4"/><ellipse cx="191.60" cy="254.30" rx="0.60" ry="0.75" fill="#f0409c" fill-opacity="0.4"/><ellipse cx="193.40" cy="253.05" rx="0.60" ry="0.75" fill="#f0409c" fill-opacity="0.4"/><ellipse cx="195.20" cy="251.80" rx="0.80" ry="1.00" fill="#f0409c" fill-opacity="0.75"/><line x1="188.00" y1="260.80" x2="195.20" y2="255.80" stroke="#f7a0cf" stroke-width="1.3" stroke-opacity="0.5"/><ellipse cx="188.00" cy="260.80" rx="0.80" ry="1.00" fill="#f0409c" fill-opacity="0.75"/><ellipse cx="189.80" cy="259.55" rx="0.60" ry="0.75" fill="#f0409c" fill-opacity="0.4"/><ellipse cx="191.60" cy="258.30" rx="0.60" ry="0.75" fill="#f0409c" fill-opacity="0.4"/><ellipse cx="193.40" cy="257.05" rx="0.60" ry="0.75" fill="#f0409c" fill-opacity="0.4"/><ellipse cx="195.20" cy="255.80" rx="0.80" ry="1.00" fill="#f0409c" fill-opacity="0.75"/><line x1="188.00" y1="264.80" x2="195.20" y2="259.80" stroke="#f7a0cf" stroke-width="1.3" stroke-opacity="0.5"/><ellipse cx="188.00" cy="264.80" rx="0.80" ry="1.00" fill="#f0409c" fill-opacity="0.75"/><ellipse cx="189.80" cy="263.55" rx="0.60" ry="0.75" fill="#f0409c" fill-opacity="0.4"/><ellipse cx="191.60" cy="262.30" rx="0.60" ry="0.75" fill="#f0409c" fill-opacity="0.4"/><ellipse cx="193.40" cy="261.05" rx="0.60" ry="0.75" fill="#f0409c" fill-opacity="0.4"/><ellipse cx="195.20" cy="259.80" rx="0.80" ry="1.00" fill="#f0409c" fill-opacity="0.75"/><line x1="188.00" y1="268.80" x2="195.20" y2="263.80" stroke="#f7a0cf" stroke-width="1.3" stroke-opacity="0.5"/><ellipse cx="188.00" cy="268.80" rx="0.80" ry="1.00" fill="#f0409c" fill-opacity="0.75"/><ellipse cx="189.80" cy="267.55" rx="0.60" ry="0.75" fill="#f0409c" fill-opacity="0.4"/><ellipse cx="191.60" cy="266.30" rx="0.60" ry="0.75" fill="#f0409c" fill-opacity="0.4"/><ellipse cx="193.40" cy="265.05" rx="0.60" ry="0.75" fill="#f0409c" fill-opacity="0.4"/><ellipse cx="195.20" cy="263.80" rx="0.80" ry="1.00" fill="#f0409c" fill-opacity="0.75"/><line x1="188.00" y1="272.80" x2="195.20" y2="267.80" stroke="#f7a0cf" stroke-width="1.3" stroke-opacity="0.5"/><ellipse cx="188.00" cy="272.80" rx="0.80" ry="1.00" fill="#f0409c" fill-opacity="0.75"/><ellipse cx="189.80" cy="271.55" rx="0.60" ry="0.75" fill="#f0409c" fill-opacity="0.4"/><ellipse cx="191.60" cy="270.30" rx="0.60" ry="0.75" fill="#f0409c" fill-opacity="0.4"/><ellipse cx="193.40" cy="269.05" rx="0.60" ry="0.75" fill="#f0409c" fill-opacity="0.4"/><ellipse cx="195.20" cy="267.80" rx="0.80" ry="1.00" fill="#f0409c" fill-opacity="0.75"/></g>
<ellipse cx="195.10" cy="249.60" rx="1.1" ry="1.9" transform="rotate(20 195.10 249.60)" fill="#f59a2a" filter="url(#bl05)"/>
<g filter="url(#bl06)"><line x1="50.0" y1="222.0" x2="56.4" y2="201.2" stroke="#3a44b8" stroke-width="1.8" stroke-dasharray="0.9,0.7" stroke-opacity="0.8"/><ellipse cx="50.4" cy="221.0" rx="1.0" ry="1.5" fill="#2a34b0" fill-opacity="0.7"/><line x1="77.9" y1="225.8" x2="83.6" y2="205.6" stroke="#4a54c0" stroke-width="3.2" stroke-dasharray="0.9,0.7" stroke-opacity="0.65"/><ellipse cx="78.1" cy="225.0" rx="1.3" ry="1.7" fill="#2a34b0" fill-opacity="0.7"/><ellipse cx="108.0" cy="220.0" rx="3.0" ry="10.2" transform="rotate(14 108.0 220.0)" fill="none" stroke="#3a44b8" stroke-width="1.6" stroke-opacity="0.75"/><ellipse cx="135.6" cy="223.8" rx="3.7" ry="10.3" transform="rotate(8 135.6 223.8)" fill="none" stroke="#2a36b0" stroke-width="2.2" stroke-opacity="0.85"/><ellipse cx="163.1" cy="228.6" rx="3.7" ry="9.0" transform="rotate(10 163.1 228.6)" fill="none" stroke="#3a44b8" stroke-width="1.8" stroke-opacity="0.65"/><polygon points="187.6,223.5 194.6,232.5 192.6,240.0 185.6,231.0" fill="#6a74d0" fill-opacity="0.3"/><line x1="187.8" y1="224.2" x2="186.2" y2="231.0" stroke="#2a34b0" stroke-width="1.5" stroke-opacity="0.75"/><line x1="194.2" y1="233.2" x2="192.6" y2="239.6" stroke="#2a34b0" stroke-width="1.5" stroke-opacity="0.75"/><polygon points="215.2,228.4 222.0,236.4 220.4,244.0 213.8,235.6" fill="#6a74d0" fill-opacity="0.3"/><line x1="215.3" y1="229.0" x2="214.2" y2="235.4" stroke="#2a34b0" stroke-width="1.5" stroke-opacity="0.75"/><line x1="221.6" y1="237.0" x2="220.4" y2="243.6" stroke="#2a34b0" stroke-width="1.5" stroke-opacity="0.75"/></g>
<ellipse cx="56.4" cy="200.8" rx="1.1" ry="1.9" transform="rotate(20 56.4 200.8)" fill="#f59a2a" filter="url(#bl05)"/>
<ellipse cx="83.7" cy="205.3" rx="1.1" ry="1.9" transform="rotate(20 83.7 205.3)" fill="#f59a2a" filter="url(#bl05)"/>
<ellipse cx="111.0" cy="209.4" rx="1.1" ry="1.9" transform="rotate(20 111.0 209.4)" fill="#f59a2a" filter="url(#bl05)"/>
<ellipse cx="138.5" cy="213.4" rx="1.1" ry="1.9" transform="rotate(20 138.5 213.4)" fill="#f59a2a" filter="url(#bl05)"/>
<ellipse cx="165.9" cy="217.4" rx="1.1" ry="1.9" transform="rotate(20 165.9 217.4)" fill="#f59a2a" filter="url(#bl05)"/>
<ellipse cx="193.3" cy="221.8" rx="1.1" ry="1.9" transform="rotate(20 193.3 221.8)" fill="#f59a2a" filter="url(#bl05)"/>
<ellipse cx="220.7" cy="225.9" rx="1.1" ry="1.9" transform="rotate(20 220.7 225.9)" fill="#f59a2a" filter="url(#bl05)"/>
<ellipse cx="193.2" cy="222.1" rx="3.1" ry="4.2" fill="none" stroke="#333" stroke-width="1.2"/>
<text x="211.20" y="217.40" font-size="7.3" fill="#222" text-anchor="middle" font-weight="normal" font-style="normal" >Off-axis</text>
<text x="211.60" y="226.40" font-size="7.3" fill="#222" text-anchor="middle" font-weight="normal" font-style="normal" >pump</text>
<text transform="translate(87.0,197.6) rotate(8.4)" font-size="7.25" fill="#1e1ea0" stroke="#1e1ea0" stroke-width="0.15">Pattern evolution upon oscillation</text>
<text transform="translate(41.0,263.0) rotate(8.6)" font-size="7.3" fill="#e8389a">Pattern revivals throughout oscillation</text>
<line x1="227.7" y1="232.3" x2="262" y2="232.3" stroke="#4a78cc" stroke-width="1.3" stroke-dasharray="8.4,3.6"/>
<polygon points="261.2,229.7 267,232.3 261.2,234.9" fill="#4a78cc"/>
<line x1="207.5" y1="262.1" x2="262" y2="262.1" stroke="#e0279a" stroke-width="1.4" stroke-dasharray="4,3.2"/>
<polygon points="261.0,259.4 266.6,262.1 261.0,264.8" fill="#e0279a"/>
<line x1="307.45" y1="179.40" x2="307.45" y2="292.50" stroke="#e4e4e4" stroke-width="0.6"/>
<line x1="343.40" y1="179.40" x2="343.40" y2="292.50" stroke="#e4e4e4" stroke-width="0.6"/>
<line x1="379.35" y1="179.40" x2="379.35" y2="292.50" stroke="#e4e4e4" stroke-width="0.6"/>
<line x1="271.50" y1="264.23" x2="415.30" y2="264.23" stroke="#e4e4e4" stroke-width="0.6"/>
<line x1="271.50" y1="235.95" x2="415.30" y2="235.95" stroke="#e4e4e4" stroke-width="0.6"/>
<line x1="271.50" y1="207.68" x2="415.30" y2="207.68" stroke="#e4e4e4" stroke-width="0.6"/>
<path d="M271.5,292.5 L271.5,207.68 L272.00,207.68 L273.80,207.73 L275.59,207.91 L277.39,208.20 L279.18,208.60 L280.98,209.12 L282.77,209.75 L284.57,210.49 L286.37,211.34 L288.16,212.30 L289.96,213.36 L291.75,214.52 L293.55,215.78 L295.34,217.13 L297.14,218.57 L298.94,220.10 L300.73,221.71 L302.53,223.40 L304.32,225.16 L306.12,226.99 L307.91,228.88 L309.71,230.83 L311.51,232.84 L313.30,234.89 L315.10,236.98 L316.89,239.11 L318.69,241.27 L320.48,243.45 L322.28,245.65 L324.08,247.87 L325.87,250.09 L327.67,252.31 L329.46,254.52 L331.26,256.72 L333.06,258.91 L334.85,261.06 L336.65,263.19 L338.44,265.29 L340.24,267.34 L342.03,269.34 L343.83,271.29 L345.63,273.19 L347.42,275.02 L349.22,276.78 L351.01,278.47 L352.81,280.08 L354.60,281.61 L356.40,283.05 L358.20,284.40 L359.99,285.66 L361.79,286.82 L363.58,287.88 L365.38,288.83 L367.17,289.68 L368.97,290.42 L370.77,291.05 L372.56,291.57 L374.36,291.98 L376.15,292.27 L377.95,292.44 L379.74,292.50 L415.3,292.5 Z" fill="url(#gBlueB)"/>
<rect x="271.5" y="249.3" width="143.8" height="43.19999999999999" fill="url(#gPinkB)"/>
<line x1="307.45" y1="179.40" x2="307.45" y2="292.50" stroke="#ffffff" stroke-width="0.5"/>
<line x1="343.40" y1="179.40" x2="343.40" y2="292.50" stroke="#ffffff" stroke-width="0.5"/>
<line x1="379.35" y1="179.40" x2="379.35" y2="292.50" stroke="#ffffff" stroke-width="0.5"/>
<path d="M272.00,226.34 L273.79,226.52 L275.58,227.09 L277.37,228.01 L279.17,229.29 L280.96,230.89 L282.75,232.79 L284.54,234.96 L286.33,237.37 L288.12,239.98 L289.91,242.75 L291.70,245.64 L293.50,248.62 L295.29,251.64 L297.08,254.67 L298.87,257.67 L300.66,260.62 L302.45,263.48 L304.24,266.24 L306.03,268.87 L307.82,271.35 L309.62,273.69 L311.41,275.86 L313.20,277.86 L314.99,279.70 L316.78,281.37 L318.57,282.87 L320.36,284.22 L322.15,285.43 L323.95,286.49 L325.74,287.42 L327.53,288.23 L329.32,288.93 L331.11,289.54 L332.90,290.05 L334.69,290.49 L336.49,290.86 L338.28,291.17 L340.07,291.42 L341.86,291.64 L343.65,291.81 L345.44,291.95 L347.23,292.07 L349.02,292.16 L350.81,292.24 L352.61,292.29 L354.40,292.34 L356.19,292.38 L357.98,292.41 L359.77,292.43 L361.56,292.45 L363.35,292.46 L365.14,292.47 L366.94,292.48 L368.73,292.48 L370.52,292.49 L372.31,292.49 L374.10,292.49 L375.89,292.50 L377.68,292.50 L379.48,292.50 L381.27,292.50 L383.06,292.50 L384.85,292.50 L386.64,292.50 L388.43,292.50 L390.22,292.50 L392.01,292.50 L393.81,292.50 L395.60,292.50 L397.39,292.50 L399.18,292.50 L400.97,292.50 L402.76,292.50 L404.55,292.50 L406.34,292.50 L408.13,292.50 L409.93,292.50 L411.72,292.50 L413.51,292.50 L415.30,292.50" fill="none" stroke="#2a2ab8" stroke-width="1.2" stroke-dasharray="3,2.4"/>
<line x1="271.5" y1="253.3" x2="415.3" y2="253.3" stroke="#f0409c" stroke-width="1.1" stroke-dasharray="3.4,2.6"/>
<rect x="271.5" y="179.4" width="143.8" height="113.1" fill="none" stroke="#9a9a9a" stroke-width="0.8"/>
<circle cx="273.2" cy="226.4" r="2.1" fill="#0a0a96"/>
<circle cx="273.0" cy="253.3" r="2.1" fill="#ee2a92"/>
<rect x="278.8" y="186.5" width="7.3" height="4.1" fill="url(#gSwB)"/>
<rect x="286.1" y="186.5" width="7.3" height="4.1" fill="url(#gSwP)"/>
<line x1="279" y1="197.2" x2="293.6" y2="197.2" stroke="#2a2ab8" stroke-width="1.1" stroke-dasharray="3.4,2.2"/>
<line x1="279" y1="201.0" x2="293.6" y2="201.0" stroke="#f0489e" stroke-width="1.1" stroke-dasharray="3.4,2.2"/>
<text x="298.50" y="191.50" font-size="7.4" fill="#222" text-anchor="start" font-weight="normal" font-style="italic" >G (m, n)</text>
<text x="298.50" y="201.70" font-size="7.4" fill="#222" text-anchor="start" font-weight="normal" font-style="italic" >N (m, n)</text>
<text x="315.9" y="222.3" font-size="7.4" fill="#1a1a9a">Modal blocked for HG</text>
<text x="387.6" y="217.9" font-size="4.7" fill="#1a1a9a">90°</text>
<text x="387.8" y="224.3" font-size="4.7" fill="#1a1a9a" font-style="italic">7,0</text>
<text x="335.8" y="245.9" font-size="7.4" fill="#e0309a">Constant gain for HG</text>
<text x="405.0" y="241.5" font-size="4.7" fill="#e0309a">0°</text>
<text x="405.0" y="248.0" font-size="4.7" fill="#e0309a" font-style="italic">4,4</text>
<text x="419.80" y="185.50" font-size="8.2" fill="#222" text-anchor="start" font-weight="normal" font-style="normal" >3</text>
<text x="419.80" y="240.00" font-size="8.2" fill="#222" text-anchor="start" font-weight="normal" font-style="normal" >2</text>
<text x="419.80" y="294.50" font-size="8.2" fill="#222" text-anchor="start" font-weight="normal" font-style="normal" >1</text>
<text x="273.10" y="303.60" font-size="8.2" fill="#222" text-anchor="middle" font-weight="normal" font-style="normal" >0</text>
<text x="345.10" y="303.60" font-size="8.2" fill="#222" text-anchor="middle" font-weight="normal" font-style="normal" >π/2</text>
<text x="415.70" y="303.60" font-size="8.2" fill="#222" text-anchor="middle" font-weight="normal" font-style="normal" >π</text>
<text x="342.30" y="316.90" font-size="8.75" fill="#222" text-anchor="middle" font-weight="normal" font-style="normal" >Astigmatic retardance</text>
<text transform="translate(440.0,236.0) rotate(-90)" font-size="8.8" fill="#222" text-anchor="middle">Relative modal gain</text></svg></body></html>
